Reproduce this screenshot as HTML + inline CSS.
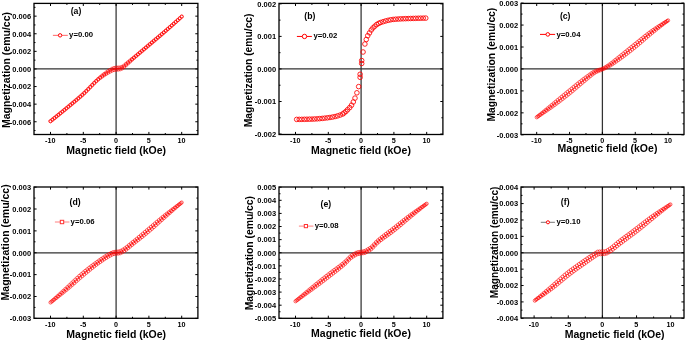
<!DOCTYPE html>
<html><head><meta charset="utf-8"><style>
html,body{margin:0;padding:0;background:#fff;}
body{width:685px;height:341px;overflow:hidden;}
svg{display:block;}
text{font-family:"Liberation Sans",sans-serif;font-weight:bold;fill:#000;}
svg g.t{filter:grayscale(1);}
.tl{font-size:8px;}
.ti{font-size:10.5px;}
.lb{font-size:8.7px;}
.lg{font-size:8.1px;}
</style></head><body>
<svg width="685" height="341" viewBox="0 0 685 341">
<g>
<path d="M116.1 3.4V134.5 M34 68.95H197.9" stroke="#333" stroke-width="1.25" fill="none"/>
<path d="M50.5 134.5v-2.6M50.5 3.4v2.6M66.9 134.5v-1.5M66.9 3.4v1.5M83.3 134.5v-2.6M83.3 3.4v2.6M99.7 134.5v-1.5M99.7 3.4v1.5M116.1 134.5v-2.6M116.1 3.4v2.6M132.5 134.5v-1.5M132.5 3.4v1.5M148.9 134.5v-2.6M148.9 3.4v2.6M165.3 134.5v-1.5M165.3 3.4v1.5M181.7 134.5v-2.6M181.7 3.4v2.6M34 130.55h1.5M197.9 130.55h-1.5M34 121.75h2.6M197.9 121.75h-2.6M34 112.95h1.5M197.9 112.95h-1.5M34 104.15h2.6M197.9 104.15h-2.6M34 95.35h1.5M197.9 95.35h-1.5M34 86.55h2.6M197.9 86.55h-2.6M34 77.75h1.5M197.9 77.75h-1.5M34 68.95h2.6M197.9 68.95h-2.6M34 60.15h1.5M197.9 60.15h-1.5M34 51.35h2.6M197.9 51.35h-2.6M34 42.55h1.5M197.9 42.55h-1.5M34 33.75h2.6M197.9 33.75h-2.6M34 24.95h1.5M197.9 24.95h-1.5M34 16.15h2.6M197.9 16.15h-2.6M34 7.35h1.5M197.9 7.35h-1.5" stroke="#000" stroke-width="1" fill="none"/>
<rect x="34" y="3.4" width="163.9" height="131.1" stroke="#000" stroke-width="1.3" fill="none"/>
<path d="M52.9 35.35H67.8" stroke="#ff6666" stroke-width="1" fill="none"/>
<circle cx="60.1" cy="35.35" r="1.7" fill="#fff" stroke="#f00" stroke-width="1"/>
<path d="M48.9 121.2a1.6 1.6 0 1 0 3.2 0a1.6 1.6 0 1 0 -3.2 0M50.89 119.65a1.6 1.6 0 1 0 3.2 0a1.6 1.6 0 1 0 -3.2 0M52.88 118.09a1.6 1.6 0 1 0 3.2 0a1.6 1.6 0 1 0 -3.2 0M54.86 116.52a1.6 1.6 0 1 0 3.2 0a1.6 1.6 0 1 0 -3.2 0M56.85 114.94a1.6 1.6 0 1 0 3.2 0a1.6 1.6 0 1 0 -3.2 0M58.84 113.35a1.6 1.6 0 1 0 3.2 0a1.6 1.6 0 1 0 -3.2 0M60.83 111.75a1.6 1.6 0 1 0 3.2 0a1.6 1.6 0 1 0 -3.2 0M62.82 110.14a1.6 1.6 0 1 0 3.2 0a1.6 1.6 0 1 0 -3.2 0M64.8 108.52a1.6 1.6 0 1 0 3.2 0a1.6 1.6 0 1 0 -3.2 0M66.79 106.89a1.6 1.6 0 1 0 3.2 0a1.6 1.6 0 1 0 -3.2 0M68.78 105.26a1.6 1.6 0 1 0 3.2 0a1.6 1.6 0 1 0 -3.2 0M70.77 103.63a1.6 1.6 0 1 0 3.2 0a1.6 1.6 0 1 0 -3.2 0M72.75 101.98a1.6 1.6 0 1 0 3.2 0a1.6 1.6 0 1 0 -3.2 0M74.74 100.32a1.6 1.6 0 1 0 3.2 0a1.6 1.6 0 1 0 -3.2 0M76.73 98.63a1.6 1.6 0 1 0 3.2 0a1.6 1.6 0 1 0 -3.2 0M78.72 96.91a1.6 1.6 0 1 0 3.2 0a1.6 1.6 0 1 0 -3.2 0M80.71 95.15a1.6 1.6 0 1 0 3.2 0a1.6 1.6 0 1 0 -3.2 0M82.69 93.33a1.6 1.6 0 1 0 3.2 0a1.6 1.6 0 1 0 -3.2 0M84.68 91.4a1.6 1.6 0 1 0 3.2 0a1.6 1.6 0 1 0 -3.2 0M86.67 89.39a1.6 1.6 0 1 0 3.2 0a1.6 1.6 0 1 0 -3.2 0M88.66 87.33a1.6 1.6 0 1 0 3.2 0a1.6 1.6 0 1 0 -3.2 0M90.65 85.27a1.6 1.6 0 1 0 3.2 0a1.6 1.6 0 1 0 -3.2 0M92.63 83.25a1.6 1.6 0 1 0 3.2 0a1.6 1.6 0 1 0 -3.2 0M94.62 81.3a1.6 1.6 0 1 0 3.2 0a1.6 1.6 0 1 0 -3.2 0M96.61 79.58a1.6 1.6 0 1 0 3.2 0a1.6 1.6 0 1 0 -3.2 0M98.6 78.02a1.6 1.6 0 1 0 3.2 0a1.6 1.6 0 1 0 -3.2 0M100.58 76.57a1.6 1.6 0 1 0 3.2 0a1.6 1.6 0 1 0 -3.2 0M102.57 75.19a1.6 1.6 0 1 0 3.2 0a1.6 1.6 0 1 0 -3.2 0M104.56 73.9a1.6 1.6 0 1 0 3.2 0a1.6 1.6 0 1 0 -3.2 0M106.55 72.7a1.6 1.6 0 1 0 3.2 0a1.6 1.6 0 1 0 -3.2 0M108.54 71.6a1.6 1.6 0 1 0 3.2 0a1.6 1.6 0 1 0 -3.2 0M110.52 70.59a1.6 1.6 0 1 0 3.2 0a1.6 1.6 0 1 0 -3.2 0M112.51 70.06a1.6 1.6 0 1 0 3.2 0a1.6 1.6 0 1 0 -3.2 0M114.5 69.8a1.6 1.6 0 1 0 3.2 0a1.6 1.6 0 1 0 -3.2 0M116.49 69.61a1.6 1.6 0 1 0 3.2 0a1.6 1.6 0 1 0 -3.2 0M118.48 69.32a1.6 1.6 0 1 0 3.2 0a1.6 1.6 0 1 0 -3.2 0M120.46 68.53a1.6 1.6 0 1 0 3.2 0a1.6 1.6 0 1 0 -3.2 0M122.45 67.15a1.6 1.6 0 1 0 3.2 0a1.6 1.6 0 1 0 -3.2 0M124.44 65.2a1.6 1.6 0 1 0 3.2 0a1.6 1.6 0 1 0 -3.2 0M126.43 63.4a1.6 1.6 0 1 0 3.2 0a1.6 1.6 0 1 0 -3.2 0M128.42 61.59a1.6 1.6 0 1 0 3.2 0a1.6 1.6 0 1 0 -3.2 0M130.4 59.79a1.6 1.6 0 1 0 3.2 0a1.6 1.6 0 1 0 -3.2 0M132.39 58.01a1.6 1.6 0 1 0 3.2 0a1.6 1.6 0 1 0 -3.2 0M134.38 56.24a1.6 1.6 0 1 0 3.2 0a1.6 1.6 0 1 0 -3.2 0M136.37 54.57a1.6 1.6 0 1 0 3.2 0a1.6 1.6 0 1 0 -3.2 0M138.35 52.91a1.6 1.6 0 1 0 3.2 0a1.6 1.6 0 1 0 -3.2 0M140.34 51.25a1.6 1.6 0 1 0 3.2 0a1.6 1.6 0 1 0 -3.2 0M142.33 49.58a1.6 1.6 0 1 0 3.2 0a1.6 1.6 0 1 0 -3.2 0M144.32 47.91a1.6 1.6 0 1 0 3.2 0a1.6 1.6 0 1 0 -3.2 0M146.31 46.24a1.6 1.6 0 1 0 3.2 0a1.6 1.6 0 1 0 -3.2 0M148.29 44.56a1.6 1.6 0 1 0 3.2 0a1.6 1.6 0 1 0 -3.2 0M150.28 42.88a1.6 1.6 0 1 0 3.2 0a1.6 1.6 0 1 0 -3.2 0M152.27 41.2a1.6 1.6 0 1 0 3.2 0a1.6 1.6 0 1 0 -3.2 0M154.26 39.53a1.6 1.6 0 1 0 3.2 0a1.6 1.6 0 1 0 -3.2 0M156.25 37.84a1.6 1.6 0 1 0 3.2 0a1.6 1.6 0 1 0 -3.2 0M158.23 36.15a1.6 1.6 0 1 0 3.2 0a1.6 1.6 0 1 0 -3.2 0M160.22 34.44a1.6 1.6 0 1 0 3.2 0a1.6 1.6 0 1 0 -3.2 0M162.21 32.72a1.6 1.6 0 1 0 3.2 0a1.6 1.6 0 1 0 -3.2 0M164.2 30.98a1.6 1.6 0 1 0 3.2 0a1.6 1.6 0 1 0 -3.2 0M166.18 29.22a1.6 1.6 0 1 0 3.2 0a1.6 1.6 0 1 0 -3.2 0M168.17 27.45a1.6 1.6 0 1 0 3.2 0a1.6 1.6 0 1 0 -3.2 0M170.16 25.67a1.6 1.6 0 1 0 3.2 0a1.6 1.6 0 1 0 -3.2 0M172.15 23.88a1.6 1.6 0 1 0 3.2 0a1.6 1.6 0 1 0 -3.2 0M174.14 22.08a1.6 1.6 0 1 0 3.2 0a1.6 1.6 0 1 0 -3.2 0M176.12 20.26a1.6 1.6 0 1 0 3.2 0a1.6 1.6 0 1 0 -3.2 0M178.11 18.44a1.6 1.6 0 1 0 3.2 0a1.6 1.6 0 1 0 -3.2 0M180.1 16.6a1.6 1.6 0 1 0 3.2 0a1.6 1.6 0 1 0 -3.2 0M48.9 121.2a1.6 1.6 0 1 0 3.2 0a1.6 1.6 0 1 0 -3.2 0M50.89 119.59a1.6 1.6 0 1 0 3.2 0a1.6 1.6 0 1 0 -3.2 0M52.88 117.98a1.6 1.6 0 1 0 3.2 0a1.6 1.6 0 1 0 -3.2 0M54.86 116.35a1.6 1.6 0 1 0 3.2 0a1.6 1.6 0 1 0 -3.2 0M56.85 114.72a1.6 1.6 0 1 0 3.2 0a1.6 1.6 0 1 0 -3.2 0M58.84 113.08a1.6 1.6 0 1 0 3.2 0a1.6 1.6 0 1 0 -3.2 0M60.83 111.43a1.6 1.6 0 1 0 3.2 0a1.6 1.6 0 1 0 -3.2 0M62.82 109.77a1.6 1.6 0 1 0 3.2 0a1.6 1.6 0 1 0 -3.2 0M64.8 108.11a1.6 1.6 0 1 0 3.2 0a1.6 1.6 0 1 0 -3.2 0M66.79 106.44a1.6 1.6 0 1 0 3.2 0a1.6 1.6 0 1 0 -3.2 0M68.78 104.77a1.6 1.6 0 1 0 3.2 0a1.6 1.6 0 1 0 -3.2 0M70.77 103.11a1.6 1.6 0 1 0 3.2 0a1.6 1.6 0 1 0 -3.2 0M72.75 101.44a1.6 1.6 0 1 0 3.2 0a1.6 1.6 0 1 0 -3.2 0M74.74 99.75a1.6 1.6 0 1 0 3.2 0a1.6 1.6 0 1 0 -3.2 0M76.73 98.04a1.6 1.6 0 1 0 3.2 0a1.6 1.6 0 1 0 -3.2 0M78.72 96.31a1.6 1.6 0 1 0 3.2 0a1.6 1.6 0 1 0 -3.2 0M80.71 94.55a1.6 1.6 0 1 0 3.2 0a1.6 1.6 0 1 0 -3.2 0M82.69 92.73a1.6 1.6 0 1 0 3.2 0a1.6 1.6 0 1 0 -3.2 0M84.68 90.81a1.6 1.6 0 1 0 3.2 0a1.6 1.6 0 1 0 -3.2 0M86.67 88.81a1.6 1.6 0 1 0 3.2 0a1.6 1.6 0 1 0 -3.2 0M88.66 86.76a1.6 1.6 0 1 0 3.2 0a1.6 1.6 0 1 0 -3.2 0M90.65 84.72a1.6 1.6 0 1 0 3.2 0a1.6 1.6 0 1 0 -3.2 0M92.63 82.73a1.6 1.6 0 1 0 3.2 0a1.6 1.6 0 1 0 -3.2 0M94.62 80.81a1.6 1.6 0 1 0 3.2 0a1.6 1.6 0 1 0 -3.2 0M96.61 78.92a1.6 1.6 0 1 0 3.2 0a1.6 1.6 0 1 0 -3.2 0M98.6 77.18a1.6 1.6 0 1 0 3.2 0a1.6 1.6 0 1 0 -3.2 0M100.58 75.55a1.6 1.6 0 1 0 3.2 0a1.6 1.6 0 1 0 -3.2 0M102.57 74a1.6 1.6 0 1 0 3.2 0a1.6 1.6 0 1 0 -3.2 0M104.56 72.54a1.6 1.6 0 1 0 3.2 0a1.6 1.6 0 1 0 -3.2 0M106.55 71.17a1.6 1.6 0 1 0 3.2 0a1.6 1.6 0 1 0 -3.2 0M108.54 69.9a1.6 1.6 0 1 0 3.2 0a1.6 1.6 0 1 0 -3.2 0M110.52 68.73a1.6 1.6 0 1 0 3.2 0a1.6 1.6 0 1 0 -3.2 0M112.51 68.03a1.6 1.6 0 1 0 3.2 0a1.6 1.6 0 1 0 -3.2 0M114.5 67.6a1.6 1.6 0 1 0 3.2 0a1.6 1.6 0 1 0 -3.2 0M116.49 67.57a1.6 1.6 0 1 0 3.2 0a1.6 1.6 0 1 0 -3.2 0M118.48 67.45a1.6 1.6 0 1 0 3.2 0a1.6 1.6 0 1 0 -3.2 0M120.46 66.83a1.6 1.6 0 1 0 3.2 0a1.6 1.6 0 1 0 -3.2 0M122.45 65.62a1.6 1.6 0 1 0 3.2 0a1.6 1.6 0 1 0 -3.2 0M124.44 63.83a1.6 1.6 0 1 0 3.2 0a1.6 1.6 0 1 0 -3.2 0M126.43 62.21a1.6 1.6 0 1 0 3.2 0a1.6 1.6 0 1 0 -3.2 0M128.42 60.58a1.6 1.6 0 1 0 3.2 0a1.6 1.6 0 1 0 -3.2 0M130.4 58.96a1.6 1.6 0 1 0 3.2 0a1.6 1.6 0 1 0 -3.2 0M132.39 57.35a1.6 1.6 0 1 0 3.2 0a1.6 1.6 0 1 0 -3.2 0M134.38 55.75a1.6 1.6 0 1 0 3.2 0a1.6 1.6 0 1 0 -3.2 0M136.37 54.05a1.6 1.6 0 1 0 3.2 0a1.6 1.6 0 1 0 -3.2 0M138.35 52.36a1.6 1.6 0 1 0 3.2 0a1.6 1.6 0 1 0 -3.2 0M140.34 50.68a1.6 1.6 0 1 0 3.2 0a1.6 1.6 0 1 0 -3.2 0M142.33 49a1.6 1.6 0 1 0 3.2 0a1.6 1.6 0 1 0 -3.2 0M144.32 47.32a1.6 1.6 0 1 0 3.2 0a1.6 1.6 0 1 0 -3.2 0M146.31 45.64a1.6 1.6 0 1 0 3.2 0a1.6 1.6 0 1 0 -3.2 0M148.29 43.96a1.6 1.6 0 1 0 3.2 0a1.6 1.6 0 1 0 -3.2 0M150.28 42.29a1.6 1.6 0 1 0 3.2 0a1.6 1.6 0 1 0 -3.2 0M152.27 40.62a1.6 1.6 0 1 0 3.2 0a1.6 1.6 0 1 0 -3.2 0M154.26 38.96a1.6 1.6 0 1 0 3.2 0a1.6 1.6 0 1 0 -3.2 0M156.25 37.29a1.6 1.6 0 1 0 3.2 0a1.6 1.6 0 1 0 -3.2 0M158.23 35.63a1.6 1.6 0 1 0 3.2 0a1.6 1.6 0 1 0 -3.2 0M160.22 33.95a1.6 1.6 0 1 0 3.2 0a1.6 1.6 0 1 0 -3.2 0M162.21 32.26a1.6 1.6 0 1 0 3.2 0a1.6 1.6 0 1 0 -3.2 0M164.2 30.56a1.6 1.6 0 1 0 3.2 0a1.6 1.6 0 1 0 -3.2 0M166.18 28.85a1.6 1.6 0 1 0 3.2 0a1.6 1.6 0 1 0 -3.2 0M168.17 27.13a1.6 1.6 0 1 0 3.2 0a1.6 1.6 0 1 0 -3.2 0M170.16 25.4a1.6 1.6 0 1 0 3.2 0a1.6 1.6 0 1 0 -3.2 0M172.15 23.66a1.6 1.6 0 1 0 3.2 0a1.6 1.6 0 1 0 -3.2 0M174.14 21.91a1.6 1.6 0 1 0 3.2 0a1.6 1.6 0 1 0 -3.2 0M176.12 20.15a1.6 1.6 0 1 0 3.2 0a1.6 1.6 0 1 0 -3.2 0M178.11 18.38a1.6 1.6 0 1 0 3.2 0a1.6 1.6 0 1 0 -3.2 0M180.1 16.6a1.6 1.6 0 1 0 3.2 0a1.6 1.6 0 1 0 -3.2 0" fill="none" stroke="#f00" stroke-width="0.62"/>
<g class="t">
<text class="tl" transform="translate(50.3 143.2) scale(0.9 1)" text-anchor="middle">-10</text>
<text class="tl" transform="translate(83.1 143.2) scale(0.9 1)" text-anchor="middle">-5</text>
<text class="tl" transform="translate(115.9 143.2) scale(0.9 1)" text-anchor="middle">0</text>
<text class="tl" transform="translate(148.7 143.2) scale(0.9 1)" text-anchor="middle">5</text>
<text class="tl" transform="translate(181.5 143.2) scale(0.9 1)" text-anchor="middle">10</text>
<text class="tl" transform="translate(31.1 124.55) scale(0.94 1)" text-anchor="end">-0.006</text>
<text class="tl" transform="translate(31.1 106.95) scale(0.94 1)" text-anchor="end">-0.004</text>
<text class="tl" transform="translate(31.1 89.35) scale(0.94 1)" text-anchor="end">-0.002</text>
<text class="tl" transform="translate(31.1 71.75) scale(0.94 1)" text-anchor="end">0.000</text>
<text class="tl" transform="translate(31.1 54.15) scale(0.94 1)" text-anchor="end">0.002</text>
<text class="tl" transform="translate(31.1 36.55) scale(0.94 1)" text-anchor="end">0.004</text>
<text class="tl" transform="translate(31.1 18.95) scale(0.94 1)" text-anchor="end">0.006</text>
<text class="ti" x="116.2" y="153.5" text-anchor="middle">Magnetic field (kOe)</text>
<text class="ti" style="font-size:10.5px" text-anchor="middle" transform="translate(10.1 70) rotate(-90)">Magnetization (emu/cc)</text>
<text class="lb" x="76" y="13.8" text-anchor="middle">(a)</text>
<text class="lg" transform="translate(69.1 37.1) scale(0.96 1)">y=0.00</text>
</g>
</g>
<g>
<path d="M361.1 3.4V134.5 M279 68.95H442.9" stroke="#333" stroke-width="1.25" fill="none"/>
<path d="M295.5 134.5v-2.6M295.5 3.4v2.6M311.9 134.5v-1.5M311.9 3.4v1.5M328.3 134.5v-2.6M328.3 3.4v2.6M344.7 134.5v-1.5M344.7 3.4v1.5M361.1 134.5v-2.6M361.1 3.4v2.6M377.5 134.5v-1.5M377.5 3.4v1.5M393.9 134.5v-2.6M393.9 3.4v2.6M410.3 134.5v-1.5M410.3 3.4v1.5M426.7 134.5v-2.6M426.7 3.4v2.6M279 134.05h2.6M442.9 134.05h-2.6M279 117.78h1.5M442.9 117.78h-1.5M279 101.5h2.6M442.9 101.5h-2.6M279 85.22h1.5M442.9 85.22h-1.5M279 68.95h2.6M442.9 68.95h-2.6M279 52.68h1.5M442.9 52.68h-1.5M279 36.4h2.6M442.9 36.4h-2.6M279 20.12h1.5M442.9 20.12h-1.5M279 3.85h2.6M442.9 3.85h-2.6" stroke="#000" stroke-width="1" fill="none"/>
<rect x="279" y="3.4" width="163.9" height="131.1" stroke="#000" stroke-width="1.3" fill="none"/>
<path d="M296.9 36.45H311.9" stroke="#ff0000" stroke-width="1" fill="none"/>
<circle cx="304.5" cy="36.45" r="2.2" fill="#fff" stroke="#f00" stroke-width="1"/>
<path d="M294.38 119.4a2.3 2.3 0 1 0 4.6 0a2.3 2.3 0 1 0 -4.6 0M296.94 119.38a2.3 2.3 0 1 0 4.6 0a2.3 2.3 0 1 0 -4.6 0M299.5 119.35a2.3 2.3 0 1 0 4.6 0a2.3 2.3 0 1 0 -4.6 0M302.06 119.3a2.3 2.3 0 1 0 4.6 0a2.3 2.3 0 1 0 -4.6 0M304.61 119.24a2.3 2.3 0 1 0 4.6 0a2.3 2.3 0 1 0 -4.6 0M307.17 119.17a2.3 2.3 0 1 0 4.6 0a2.3 2.3 0 1 0 -4.6 0M309.73 119.1a2.3 2.3 0 1 0 4.6 0a2.3 2.3 0 1 0 -4.6 0M312.29 118.99a2.3 2.3 0 1 0 4.6 0a2.3 2.3 0 1 0 -4.6 0M314.85 118.84a2.3 2.3 0 1 0 4.6 0a2.3 2.3 0 1 0 -4.6 0M317.41 118.64a2.3 2.3 0 1 0 4.6 0a2.3 2.3 0 1 0 -4.6 0M319.96 118.4a2.3 2.3 0 1 0 4.6 0a2.3 2.3 0 1 0 -4.6 0M322.52 118.12a2.3 2.3 0 1 0 4.6 0a2.3 2.3 0 1 0 -4.6 0M325.08 117.82a2.3 2.3 0 1 0 4.6 0a2.3 2.3 0 1 0 -4.6 0M327.64 117.48a2.3 2.3 0 1 0 4.6 0a2.3 2.3 0 1 0 -4.6 0M330.2 117.06a2.3 2.3 0 1 0 4.6 0a2.3 2.3 0 1 0 -4.6 0M332.76 116.54a2.3 2.3 0 1 0 4.6 0a2.3 2.3 0 1 0 -4.6 0M335.32 115.88a2.3 2.3 0 1 0 4.6 0a2.3 2.3 0 1 0 -4.6 0M337.87 115.04a2.3 2.3 0 1 0 4.6 0a2.3 2.3 0 1 0 -4.6 0M340.43 114a2.3 2.3 0 1 0 4.6 0a2.3 2.3 0 1 0 -4.6 0M341.81 112.9a2.3 2.3 0 1 0 4.6 0a2.3 2.3 0 1 0 -4.6 0M343.58 111.5a2.3 2.3 0 1 0 4.6 0a2.3 2.3 0 1 0 -4.6 0M345.29 109.7a2.3 2.3 0 1 0 4.6 0a2.3 2.3 0 1 0 -4.6 0M347.39 107.6a2.3 2.3 0 1 0 4.6 0a2.3 2.3 0 1 0 -4.6 0M349.22 105.2a2.3 2.3 0 1 0 4.6 0a2.3 2.3 0 1 0 -4.6 0M350.99 102a2.3 2.3 0 1 0 4.6 0a2.3 2.3 0 1 0 -4.6 0M352.7 98.1a2.3 2.3 0 1 0 4.6 0a2.3 2.3 0 1 0 -4.6 0M354.6 92.8a2.3 2.3 0 1 0 4.6 0a2.3 2.3 0 1 0 -4.6 0M356.37 86.6a2.3 2.3 0 1 0 4.6 0a2.3 2.3 0 1 0 -4.6 0M357.82 74.27a2.3 2.3 0 1 0 4.6 0a2.3 2.3 0 1 0 -4.6 0M359.39 60.54a2.3 2.3 0 1 0 4.6 0a2.3 2.3 0 1 0 -4.6 0M360.77 52a2.3 2.3 0 1 0 4.6 0a2.3 2.3 0 1 0 -4.6 0M362.6 44a2.3 2.3 0 1 0 4.6 0a2.3 2.3 0 1 0 -4.6 0M363.98 39.5a2.3 2.3 0 1 0 4.6 0a2.3 2.3 0 1 0 -4.6 0M365.43 35.7a2.3 2.3 0 1 0 4.6 0a2.3 2.3 0 1 0 -4.6 0M367.2 32.9a2.3 2.3 0 1 0 4.6 0a2.3 2.3 0 1 0 -4.6 0M368.97 30a2.3 2.3 0 1 0 4.6 0a2.3 2.3 0 1 0 -4.6 0M370.67 27.9a2.3 2.3 0 1 0 4.6 0a2.3 2.3 0 1 0 -4.6 0M372.51 26.2a2.3 2.3 0 1 0 4.6 0a2.3 2.3 0 1 0 -4.6 0M374.41 24.54a2.3 2.3 0 1 0 4.6 0a2.3 2.3 0 1 0 -4.6 0M376.38 23.36a2.3 2.3 0 1 0 4.6 0a2.3 2.3 0 1 0 -4.6 0M378.35 22.5a2.3 2.3 0 1 0 4.6 0a2.3 2.3 0 1 0 -4.6 0M380.85 21.67a2.3 2.3 0 1 0 4.6 0a2.3 2.3 0 1 0 -4.6 0M383.36 20.95a2.3 2.3 0 1 0 4.6 0a2.3 2.3 0 1 0 -4.6 0M385.87 20.3a2.3 2.3 0 1 0 4.6 0a2.3 2.3 0 1 0 -4.6 0M388.37 19.79a2.3 2.3 0 1 0 4.6 0a2.3 2.3 0 1 0 -4.6 0M390.88 19.42a2.3 2.3 0 1 0 4.6 0a2.3 2.3 0 1 0 -4.6 0M393.38 19.2a2.3 2.3 0 1 0 4.6 0a2.3 2.3 0 1 0 -4.6 0M395.89 19.03a2.3 2.3 0 1 0 4.6 0a2.3 2.3 0 1 0 -4.6 0M398.4 18.88a2.3 2.3 0 1 0 4.6 0a2.3 2.3 0 1 0 -4.6 0M400.9 18.76a2.3 2.3 0 1 0 4.6 0a2.3 2.3 0 1 0 -4.6 0M403.41 18.66a2.3 2.3 0 1 0 4.6 0a2.3 2.3 0 1 0 -4.6 0M405.91 18.57a2.3 2.3 0 1 0 4.6 0a2.3 2.3 0 1 0 -4.6 0M408.42 18.49a2.3 2.3 0 1 0 4.6 0a2.3 2.3 0 1 0 -4.6 0M410.93 18.41a2.3 2.3 0 1 0 4.6 0a2.3 2.3 0 1 0 -4.6 0M413.43 18.33a2.3 2.3 0 1 0 4.6 0a2.3 2.3 0 1 0 -4.6 0M415.94 18.26a2.3 2.3 0 1 0 4.6 0a2.3 2.3 0 1 0 -4.6 0M418.44 18.2a2.3 2.3 0 1 0 4.6 0a2.3 2.3 0 1 0 -4.6 0M420.95 18.15a2.3 2.3 0 1 0 4.6 0a2.3 2.3 0 1 0 -4.6 0M423.46 18.11a2.3 2.3 0 1 0 4.6 0a2.3 2.3 0 1 0 -4.6 0M357.82 77.31a2.3 2.3 0 1 0 4.6 0a2.3 2.3 0 1 0 -4.6 0M359.39 63.5a2.3 2.3 0 1 0 4.6 0a2.3 2.3 0 1 0 -4.6 0" fill="none" stroke="#f00" stroke-width="0.85"/>
<g class="t">
<text class="tl" transform="translate(295.3 143.2) scale(0.9 1)" text-anchor="middle">-10</text>
<text class="tl" transform="translate(328.1 143.2) scale(0.9 1)" text-anchor="middle">-5</text>
<text class="tl" transform="translate(360.9 143.2) scale(0.9 1)" text-anchor="middle">0</text>
<text class="tl" transform="translate(393.7 143.2) scale(0.9 1)" text-anchor="middle">5</text>
<text class="tl" transform="translate(426.5 143.2) scale(0.9 1)" text-anchor="middle">10</text>
<text class="tl" transform="translate(276.1 136.85) scale(0.94 1)" text-anchor="end">-0.002</text>
<text class="tl" transform="translate(276.1 104.3) scale(0.94 1)" text-anchor="end">-0.001</text>
<text class="tl" transform="translate(276.1 71.75) scale(0.94 1)" text-anchor="end">0.000</text>
<text class="tl" transform="translate(276.1 39.2) scale(0.94 1)" text-anchor="end">0.001</text>
<text class="tl" transform="translate(276.1 6.65) scale(0.94 1)" text-anchor="end">0.002</text>
<text class="ti" x="361" y="153.8" text-anchor="middle">Magnetic field (kOe)</text>
<text class="ti" style="font-size:10.3px" text-anchor="middle" transform="translate(252 70.4) rotate(-90)">Magnetization (emu/cc)</text>
<text class="lb" x="309.9" y="18.6" text-anchor="middle">(b)</text>
<text class="lg" transform="translate(313.4 38.3) scale(0.96 1)">y=0.02</text>
</g>
</g>
<g>
<path d="M602.4 3.4V134.5 M521 68.95H684" stroke="#333" stroke-width="1.25" fill="none"/>
<path d="M536.7 134.5v-2.6M536.7 3.4v2.6M553.12 134.5v-1.5M553.12 3.4v1.5M569.55 134.5v-2.6M569.55 3.4v2.6M585.98 134.5v-1.5M585.98 3.4v1.5M602.4 134.5v-2.6M602.4 3.4v2.6M618.82 134.5v-1.5M618.82 3.4v1.5M635.25 134.5v-2.6M635.25 3.4v2.6M651.67 134.5v-1.5M651.67 3.4v1.5M668.1 134.5v-2.6M668.1 3.4v2.6M521 134.8h2.6M684 134.8h-2.6M521 123.83h1.5M684 123.83h-1.5M521 112.85h2.6M684 112.85h-2.6M521 101.88h1.5M684 101.88h-1.5M521 90.9h2.6M684 90.9h-2.6M521 79.92h1.5M684 79.92h-1.5M521 68.95h2.6M684 68.95h-2.6M521 57.98h1.5M684 57.98h-1.5M521 47h2.6M684 47h-2.6M521 36.03h1.5M684 36.03h-1.5M521 25.05h2.6M684 25.05h-2.6M521 14.08h1.5M684 14.08h-1.5M521 3.1h2.6M684 3.1h-2.6" stroke="#000" stroke-width="1" fill="none"/>
<rect x="521" y="3.4" width="163" height="131.1" stroke="#000" stroke-width="1.3" fill="none"/>
<path d="M540 34.4H555.1" stroke="#ff0000" stroke-width="1" fill="none"/>
<circle cx="547.8" cy="34.4" r="1.8" fill="#fff" stroke="#f00" stroke-width="1"/>
<path d="M535.1 117.3a1.6 1.6 0 1 0 3.2 0a1.6 1.6 0 1 0 -3.2 0M537.09 115.99a1.6 1.6 0 1 0 3.2 0a1.6 1.6 0 1 0 -3.2 0M539.08 114.67a1.6 1.6 0 1 0 3.2 0a1.6 1.6 0 1 0 -3.2 0M541.07 113.34a1.6 1.6 0 1 0 3.2 0a1.6 1.6 0 1 0 -3.2 0M543.06 111.99a1.6 1.6 0 1 0 3.2 0a1.6 1.6 0 1 0 -3.2 0M545.05 110.63a1.6 1.6 0 1 0 3.2 0a1.6 1.6 0 1 0 -3.2 0M547.05 109.25a1.6 1.6 0 1 0 3.2 0a1.6 1.6 0 1 0 -3.2 0M549.04 107.86a1.6 1.6 0 1 0 3.2 0a1.6 1.6 0 1 0 -3.2 0M551.03 106.44a1.6 1.6 0 1 0 3.2 0a1.6 1.6 0 1 0 -3.2 0M553.02 105.01a1.6 1.6 0 1 0 3.2 0a1.6 1.6 0 1 0 -3.2 0M555.01 103.55a1.6 1.6 0 1 0 3.2 0a1.6 1.6 0 1 0 -3.2 0M557 102.07a1.6 1.6 0 1 0 3.2 0a1.6 1.6 0 1 0 -3.2 0M558.99 100.56a1.6 1.6 0 1 0 3.2 0a1.6 1.6 0 1 0 -3.2 0M560.98 99.03a1.6 1.6 0 1 0 3.2 0a1.6 1.6 0 1 0 -3.2 0M562.97 97.49a1.6 1.6 0 1 0 3.2 0a1.6 1.6 0 1 0 -3.2 0M564.96 95.92a1.6 1.6 0 1 0 3.2 0a1.6 1.6 0 1 0 -3.2 0M566.95 94.35a1.6 1.6 0 1 0 3.2 0a1.6 1.6 0 1 0 -3.2 0M568.95 92.75a1.6 1.6 0 1 0 3.2 0a1.6 1.6 0 1 0 -3.2 0M570.94 91.11a1.6 1.6 0 1 0 3.2 0a1.6 1.6 0 1 0 -3.2 0M572.93 89.43a1.6 1.6 0 1 0 3.2 0a1.6 1.6 0 1 0 -3.2 0M574.92 87.74a1.6 1.6 0 1 0 3.2 0a1.6 1.6 0 1 0 -3.2 0M576.91 86.03a1.6 1.6 0 1 0 3.2 0a1.6 1.6 0 1 0 -3.2 0M578.9 84.33a1.6 1.6 0 1 0 3.2 0a1.6 1.6 0 1 0 -3.2 0M580.89 82.65a1.6 1.6 0 1 0 3.2 0a1.6 1.6 0 1 0 -3.2 0M582.88 81a1.6 1.6 0 1 0 3.2 0a1.6 1.6 0 1 0 -3.2 0M584.87 79.38a1.6 1.6 0 1 0 3.2 0a1.6 1.6 0 1 0 -3.2 0M586.86 77.72a1.6 1.6 0 1 0 3.2 0a1.6 1.6 0 1 0 -3.2 0M588.85 76.05a1.6 1.6 0 1 0 3.2 0a1.6 1.6 0 1 0 -3.2 0M590.85 74.46a1.6 1.6 0 1 0 3.2 0a1.6 1.6 0 1 0 -3.2 0M592.84 73.06a1.6 1.6 0 1 0 3.2 0a1.6 1.6 0 1 0 -3.2 0M594.83 71.93a1.6 1.6 0 1 0 3.2 0a1.6 1.6 0 1 0 -3.2 0M596.82 71.06a1.6 1.6 0 1 0 3.2 0a1.6 1.6 0 1 0 -3.2 0M598.81 70.28a1.6 1.6 0 1 0 3.2 0a1.6 1.6 0 1 0 -3.2 0M600.8 69.4a1.6 1.6 0 1 0 3.2 0a1.6 1.6 0 1 0 -3.2 0M602.79 68.59a1.6 1.6 0 1 0 3.2 0a1.6 1.6 0 1 0 -3.2 0M604.78 67.65a1.6 1.6 0 1 0 3.2 0a1.6 1.6 0 1 0 -3.2 0M606.77 66.61a1.6 1.6 0 1 0 3.2 0a1.6 1.6 0 1 0 -3.2 0M608.76 65.48a1.6 1.6 0 1 0 3.2 0a1.6 1.6 0 1 0 -3.2 0M610.75 64.22a1.6 1.6 0 1 0 3.2 0a1.6 1.6 0 1 0 -3.2 0M612.75 62.87a1.6 1.6 0 1 0 3.2 0a1.6 1.6 0 1 0 -3.2 0M614.74 61.46a1.6 1.6 0 1 0 3.2 0a1.6 1.6 0 1 0 -3.2 0M616.73 60.04a1.6 1.6 0 1 0 3.2 0a1.6 1.6 0 1 0 -3.2 0M618.72 58.62a1.6 1.6 0 1 0 3.2 0a1.6 1.6 0 1 0 -3.2 0M620.71 57.18a1.6 1.6 0 1 0 3.2 0a1.6 1.6 0 1 0 -3.2 0M622.7 55.7a1.6 1.6 0 1 0 3.2 0a1.6 1.6 0 1 0 -3.2 0M624.69 54.19a1.6 1.6 0 1 0 3.2 0a1.6 1.6 0 1 0 -3.2 0M626.68 52.66a1.6 1.6 0 1 0 3.2 0a1.6 1.6 0 1 0 -3.2 0M628.67 51.11a1.6 1.6 0 1 0 3.2 0a1.6 1.6 0 1 0 -3.2 0M630.66 49.54a1.6 1.6 0 1 0 3.2 0a1.6 1.6 0 1 0 -3.2 0M632.65 47.95a1.6 1.6 0 1 0 3.2 0a1.6 1.6 0 1 0 -3.2 0M634.65 46.34a1.6 1.6 0 1 0 3.2 0a1.6 1.6 0 1 0 -3.2 0M636.64 44.69a1.6 1.6 0 1 0 3.2 0a1.6 1.6 0 1 0 -3.2 0M638.63 43a1.6 1.6 0 1 0 3.2 0a1.6 1.6 0 1 0 -3.2 0M640.62 41.29a1.6 1.6 0 1 0 3.2 0a1.6 1.6 0 1 0 -3.2 0M642.61 39.57a1.6 1.6 0 1 0 3.2 0a1.6 1.6 0 1 0 -3.2 0M644.6 37.85a1.6 1.6 0 1 0 3.2 0a1.6 1.6 0 1 0 -3.2 0M646.59 36.14a1.6 1.6 0 1 0 3.2 0a1.6 1.6 0 1 0 -3.2 0M648.58 34.47a1.6 1.6 0 1 0 3.2 0a1.6 1.6 0 1 0 -3.2 0M650.57 32.83a1.6 1.6 0 1 0 3.2 0a1.6 1.6 0 1 0 -3.2 0M652.56 31.22a1.6 1.6 0 1 0 3.2 0a1.6 1.6 0 1 0 -3.2 0M654.55 29.61a1.6 1.6 0 1 0 3.2 0a1.6 1.6 0 1 0 -3.2 0M656.55 28.03a1.6 1.6 0 1 0 3.2 0a1.6 1.6 0 1 0 -3.2 0M658.54 26.46a1.6 1.6 0 1 0 3.2 0a1.6 1.6 0 1 0 -3.2 0M660.53 24.91a1.6 1.6 0 1 0 3.2 0a1.6 1.6 0 1 0 -3.2 0M662.52 23.38a1.6 1.6 0 1 0 3.2 0a1.6 1.6 0 1 0 -3.2 0M664.51 21.88a1.6 1.6 0 1 0 3.2 0a1.6 1.6 0 1 0 -3.2 0M666.5 20.4a1.6 1.6 0 1 0 3.2 0a1.6 1.6 0 1 0 -3.2 0M536.1 116.5a1.6 1.6 0 1 0 3.2 0a1.6 1.6 0 1 0 -3.2 0M538.09 114.88a1.6 1.6 0 1 0 3.2 0a1.6 1.6 0 1 0 -3.2 0M540.08 113.25a1.6 1.6 0 1 0 3.2 0a1.6 1.6 0 1 0 -3.2 0M542.07 111.62a1.6 1.6 0 1 0 3.2 0a1.6 1.6 0 1 0 -3.2 0M544.06 109.99a1.6 1.6 0 1 0 3.2 0a1.6 1.6 0 1 0 -3.2 0M546.05 108.34a1.6 1.6 0 1 0 3.2 0a1.6 1.6 0 1 0 -3.2 0M548.04 106.7a1.6 1.6 0 1 0 3.2 0a1.6 1.6 0 1 0 -3.2 0M550.03 105.05a1.6 1.6 0 1 0 3.2 0a1.6 1.6 0 1 0 -3.2 0M552.02 103.4a1.6 1.6 0 1 0 3.2 0a1.6 1.6 0 1 0 -3.2 0M554.01 101.75a1.6 1.6 0 1 0 3.2 0a1.6 1.6 0 1 0 -3.2 0M556 100.09a1.6 1.6 0 1 0 3.2 0a1.6 1.6 0 1 0 -3.2 0M558 98.44a1.6 1.6 0 1 0 3.2 0a1.6 1.6 0 1 0 -3.2 0M559.99 96.79a1.6 1.6 0 1 0 3.2 0a1.6 1.6 0 1 0 -3.2 0M561.98 95.14a1.6 1.6 0 1 0 3.2 0a1.6 1.6 0 1 0 -3.2 0M563.97 93.5a1.6 1.6 0 1 0 3.2 0a1.6 1.6 0 1 0 -3.2 0M565.96 91.87a1.6 1.6 0 1 0 3.2 0a1.6 1.6 0 1 0 -3.2 0M567.95 90.25a1.6 1.6 0 1 0 3.2 0a1.6 1.6 0 1 0 -3.2 0M569.94 88.63a1.6 1.6 0 1 0 3.2 0a1.6 1.6 0 1 0 -3.2 0M571.93 86.99a1.6 1.6 0 1 0 3.2 0a1.6 1.6 0 1 0 -3.2 0M573.92 85.35a1.6 1.6 0 1 0 3.2 0a1.6 1.6 0 1 0 -3.2 0M575.91 83.73a1.6 1.6 0 1 0 3.2 0a1.6 1.6 0 1 0 -3.2 0M577.9 82.12a1.6 1.6 0 1 0 3.2 0a1.6 1.6 0 1 0 -3.2 0M579.9 80.55a1.6 1.6 0 1 0 3.2 0a1.6 1.6 0 1 0 -3.2 0M581.89 79.03a1.6 1.6 0 1 0 3.2 0a1.6 1.6 0 1 0 -3.2 0M583.88 77.57a1.6 1.6 0 1 0 3.2 0a1.6 1.6 0 1 0 -3.2 0M585.87 76.13a1.6 1.6 0 1 0 3.2 0a1.6 1.6 0 1 0 -3.2 0M587.86 74.66a1.6 1.6 0 1 0 3.2 0a1.6 1.6 0 1 0 -3.2 0M589.85 73.24a1.6 1.6 0 1 0 3.2 0a1.6 1.6 0 1 0 -3.2 0M591.84 71.97a1.6 1.6 0 1 0 3.2 0a1.6 1.6 0 1 0 -3.2 0M593.83 70.94a1.6 1.6 0 1 0 3.2 0a1.6 1.6 0 1 0 -3.2 0M595.82 70.21a1.6 1.6 0 1 0 3.2 0a1.6 1.6 0 1 0 -3.2 0M597.81 69.67a1.6 1.6 0 1 0 3.2 0a1.6 1.6 0 1 0 -3.2 0M599.8 69.13a1.6 1.6 0 1 0 3.2 0a1.6 1.6 0 1 0 -3.2 0M601.8 68.28a1.6 1.6 0 1 0 3.2 0a1.6 1.6 0 1 0 -3.2 0M603.79 67.13a1.6 1.6 0 1 0 3.2 0a1.6 1.6 0 1 0 -3.2 0M605.78 65.88a1.6 1.6 0 1 0 3.2 0a1.6 1.6 0 1 0 -3.2 0M607.77 64.54a1.6 1.6 0 1 0 3.2 0a1.6 1.6 0 1 0 -3.2 0M609.76 63.1a1.6 1.6 0 1 0 3.2 0a1.6 1.6 0 1 0 -3.2 0M611.75 61.55a1.6 1.6 0 1 0 3.2 0a1.6 1.6 0 1 0 -3.2 0M613.74 59.94a1.6 1.6 0 1 0 3.2 0a1.6 1.6 0 1 0 -3.2 0M615.73 58.32a1.6 1.6 0 1 0 3.2 0a1.6 1.6 0 1 0 -3.2 0M617.72 56.72a1.6 1.6 0 1 0 3.2 0a1.6 1.6 0 1 0 -3.2 0M619.71 55.12a1.6 1.6 0 1 0 3.2 0a1.6 1.6 0 1 0 -3.2 0M621.7 53.51a1.6 1.6 0 1 0 3.2 0a1.6 1.6 0 1 0 -3.2 0M623.7 51.89a1.6 1.6 0 1 0 3.2 0a1.6 1.6 0 1 0 -3.2 0M625.69 50.27a1.6 1.6 0 1 0 3.2 0a1.6 1.6 0 1 0 -3.2 0M627.68 48.66a1.6 1.6 0 1 0 3.2 0a1.6 1.6 0 1 0 -3.2 0M629.67 47.04a1.6 1.6 0 1 0 3.2 0a1.6 1.6 0 1 0 -3.2 0M631.66 45.44a1.6 1.6 0 1 0 3.2 0a1.6 1.6 0 1 0 -3.2 0M633.65 43.85a1.6 1.6 0 1 0 3.2 0a1.6 1.6 0 1 0 -3.2 0M635.64 42.25a1.6 1.6 0 1 0 3.2 0a1.6 1.6 0 1 0 -3.2 0M637.63 40.64a1.6 1.6 0 1 0 3.2 0a1.6 1.6 0 1 0 -3.2 0M639.62 39.03a1.6 1.6 0 1 0 3.2 0a1.6 1.6 0 1 0 -3.2 0M641.61 37.42a1.6 1.6 0 1 0 3.2 0a1.6 1.6 0 1 0 -3.2 0M643.6 35.83a1.6 1.6 0 1 0 3.2 0a1.6 1.6 0 1 0 -3.2 0M645.6 34.28a1.6 1.6 0 1 0 3.2 0a1.6 1.6 0 1 0 -3.2 0M647.59 32.77a1.6 1.6 0 1 0 3.2 0a1.6 1.6 0 1 0 -3.2 0M649.58 31.32a1.6 1.6 0 1 0 3.2 0a1.6 1.6 0 1 0 -3.2 0M651.57 29.92a1.6 1.6 0 1 0 3.2 0a1.6 1.6 0 1 0 -3.2 0M653.56 28.55a1.6 1.6 0 1 0 3.2 0a1.6 1.6 0 1 0 -3.2 0M655.55 27.22a1.6 1.6 0 1 0 3.2 0a1.6 1.6 0 1 0 -3.2 0M657.54 25.91a1.6 1.6 0 1 0 3.2 0a1.6 1.6 0 1 0 -3.2 0M659.53 24.64a1.6 1.6 0 1 0 3.2 0a1.6 1.6 0 1 0 -3.2 0M661.52 23.39a1.6 1.6 0 1 0 3.2 0a1.6 1.6 0 1 0 -3.2 0M663.51 22.18a1.6 1.6 0 1 0 3.2 0a1.6 1.6 0 1 0 -3.2 0M665.5 20.98a1.6 1.6 0 1 0 3.2 0a1.6 1.6 0 1 0 -3.2 0" fill="none" stroke="#f00" stroke-width="0.6"/>
<g class="t">
<text class="tl" transform="translate(536.5 143.2) scale(0.9 1)" text-anchor="middle">-10</text>
<text class="tl" transform="translate(569.35 143.2) scale(0.9 1)" text-anchor="middle">-5</text>
<text class="tl" transform="translate(602.2 143.2) scale(0.9 1)" text-anchor="middle">0</text>
<text class="tl" transform="translate(635.05 143.2) scale(0.9 1)" text-anchor="middle">5</text>
<text class="tl" transform="translate(667.9 143.2) scale(0.9 1)" text-anchor="middle">10</text>
<text class="tl" transform="translate(518.1 137.6) scale(0.94 1)" text-anchor="end">-0.003</text>
<text class="tl" transform="translate(518.1 115.65) scale(0.94 1)" text-anchor="end">-0.002</text>
<text class="tl" transform="translate(518.1 93.7) scale(0.94 1)" text-anchor="end">-0.001</text>
<text class="tl" transform="translate(518.1 71.75) scale(0.94 1)" text-anchor="end">0.000</text>
<text class="tl" transform="translate(518.1 49.8) scale(0.94 1)" text-anchor="end">0.001</text>
<text class="tl" transform="translate(518.1 27.85) scale(0.94 1)" text-anchor="end">0.002</text>
<text class="tl" transform="translate(518.1 5.9) scale(0.94 1)" text-anchor="end">0.003</text>
<text class="ti" x="607.5" y="151.6" text-anchor="middle">Magnetic field (kOe)</text>
<text class="ti" style="font-size:10.3px" text-anchor="middle" transform="translate(495.2 64.65) rotate(-90)">Magnetization (emu/cc)</text>
<text class="lb" x="565.2" y="18.6" text-anchor="middle">(c)</text>
<text class="lg" transform="translate(556.5 36.9) scale(0.96 1)">y=0.04</text>
</g>
</g>
<g>
<path d="M116.1 187V318.3 M34 252.75H197.9" stroke="#333" stroke-width="1.25" fill="none"/>
<path d="M50.5 318.3v-2.6M50.5 187v2.6M66.9 318.3v-1.5M66.9 187v1.5M83.3 318.3v-2.6M83.3 187v2.6M99.7 318.3v-1.5M99.7 187v1.5M116.1 318.3v-2.6M116.1 187v2.6M132.5 318.3v-1.5M132.5 187v1.5M148.9 318.3v-2.6M148.9 187v2.6M165.3 318.3v-1.5M165.3 187v1.5M181.7 318.3v-2.6M181.7 187v2.6M34 318.36h2.6M197.9 318.36h-2.6M34 307.43h1.5M197.9 307.43h-1.5M34 296.49h2.6M197.9 296.49h-2.6M34 285.56h1.5M197.9 285.56h-1.5M34 274.62h2.6M197.9 274.62h-2.6M34 263.69h1.5M197.9 263.69h-1.5M34 252.75h2.6M197.9 252.75h-2.6M34 241.81h1.5M197.9 241.81h-1.5M34 230.88h2.6M197.9 230.88h-2.6M34 219.94h1.5M197.9 219.94h-1.5M34 209.01h2.6M197.9 209.01h-2.6M34 198.07h1.5M197.9 198.07h-1.5M34 187.14h2.6M197.9 187.14h-2.6" stroke="#000" stroke-width="1" fill="none"/>
<rect x="34" y="187" width="163.9" height="131.3" stroke="#000" stroke-width="1.3" fill="none"/>
<path d="M54.9 222H69.4" stroke="#ff8080" stroke-width="1" fill="none"/>
<rect x="60.3" y="220.3" width="3.4" height="3.4" fill="#fff" stroke="#f33" stroke-width="1"/>
<path d="M48.9 302.5a1.6 1.6 0 1 0 3.2 0a1.6 1.6 0 1 0 -3.2 0M50.89 300.98a1.6 1.6 0 1 0 3.2 0a1.6 1.6 0 1 0 -3.2 0M52.88 299.45a1.6 1.6 0 1 0 3.2 0a1.6 1.6 0 1 0 -3.2 0M54.86 297.9a1.6 1.6 0 1 0 3.2 0a1.6 1.6 0 1 0 -3.2 0M56.85 296.34a1.6 1.6 0 1 0 3.2 0a1.6 1.6 0 1 0 -3.2 0M58.84 294.77a1.6 1.6 0 1 0 3.2 0a1.6 1.6 0 1 0 -3.2 0M60.83 293.18a1.6 1.6 0 1 0 3.2 0a1.6 1.6 0 1 0 -3.2 0M62.82 291.57a1.6 1.6 0 1 0 3.2 0a1.6 1.6 0 1 0 -3.2 0M64.8 289.95a1.6 1.6 0 1 0 3.2 0a1.6 1.6 0 1 0 -3.2 0M66.79 288.3a1.6 1.6 0 1 0 3.2 0a1.6 1.6 0 1 0 -3.2 0M68.78 286.59a1.6 1.6 0 1 0 3.2 0a1.6 1.6 0 1 0 -3.2 0M70.77 284.85a1.6 1.6 0 1 0 3.2 0a1.6 1.6 0 1 0 -3.2 0M72.75 283.1a1.6 1.6 0 1 0 3.2 0a1.6 1.6 0 1 0 -3.2 0M74.74 281.33a1.6 1.6 0 1 0 3.2 0a1.6 1.6 0 1 0 -3.2 0M76.73 279.57a1.6 1.6 0 1 0 3.2 0a1.6 1.6 0 1 0 -3.2 0M78.72 277.83a1.6 1.6 0 1 0 3.2 0a1.6 1.6 0 1 0 -3.2 0M80.71 276.13a1.6 1.6 0 1 0 3.2 0a1.6 1.6 0 1 0 -3.2 0M82.69 274.48a1.6 1.6 0 1 0 3.2 0a1.6 1.6 0 1 0 -3.2 0M84.68 272.83a1.6 1.6 0 1 0 3.2 0a1.6 1.6 0 1 0 -3.2 0M86.67 271.2a1.6 1.6 0 1 0 3.2 0a1.6 1.6 0 1 0 -3.2 0M88.66 269.57a1.6 1.6 0 1 0 3.2 0a1.6 1.6 0 1 0 -3.2 0M90.65 267.97a1.6 1.6 0 1 0 3.2 0a1.6 1.6 0 1 0 -3.2 0M92.63 266.39a1.6 1.6 0 1 0 3.2 0a1.6 1.6 0 1 0 -3.2 0M94.62 264.83a1.6 1.6 0 1 0 3.2 0a1.6 1.6 0 1 0 -3.2 0M96.61 263.4a1.6 1.6 0 1 0 3.2 0a1.6 1.6 0 1 0 -3.2 0M98.6 262.01a1.6 1.6 0 1 0 3.2 0a1.6 1.6 0 1 0 -3.2 0M100.58 260.64a1.6 1.6 0 1 0 3.2 0a1.6 1.6 0 1 0 -3.2 0M102.57 259.3a1.6 1.6 0 1 0 3.2 0a1.6 1.6 0 1 0 -3.2 0M104.56 258.01a1.6 1.6 0 1 0 3.2 0a1.6 1.6 0 1 0 -3.2 0M106.55 256.8a1.6 1.6 0 1 0 3.2 0a1.6 1.6 0 1 0 -3.2 0M108.54 255.66a1.6 1.6 0 1 0 3.2 0a1.6 1.6 0 1 0 -3.2 0M110.52 254.6a1.6 1.6 0 1 0 3.2 0a1.6 1.6 0 1 0 -3.2 0M112.51 254.04a1.6 1.6 0 1 0 3.2 0a1.6 1.6 0 1 0 -3.2 0M114.5 253.7a1.6 1.6 0 1 0 3.2 0a1.6 1.6 0 1 0 -3.2 0M116.49 253.57a1.6 1.6 0 1 0 3.2 0a1.6 1.6 0 1 0 -3.2 0M118.48 253.29a1.6 1.6 0 1 0 3.2 0a1.6 1.6 0 1 0 -3.2 0M120.46 252.33a1.6 1.6 0 1 0 3.2 0a1.6 1.6 0 1 0 -3.2 0M122.45 251.18a1.6 1.6 0 1 0 3.2 0a1.6 1.6 0 1 0 -3.2 0M124.44 249.79a1.6 1.6 0 1 0 3.2 0a1.6 1.6 0 1 0 -3.2 0M126.43 248.23a1.6 1.6 0 1 0 3.2 0a1.6 1.6 0 1 0 -3.2 0M128.42 246.59a1.6 1.6 0 1 0 3.2 0a1.6 1.6 0 1 0 -3.2 0M130.4 244.95a1.6 1.6 0 1 0 3.2 0a1.6 1.6 0 1 0 -3.2 0M132.39 243.37a1.6 1.6 0 1 0 3.2 0a1.6 1.6 0 1 0 -3.2 0M134.38 241.78a1.6 1.6 0 1 0 3.2 0a1.6 1.6 0 1 0 -3.2 0M136.37 240.25a1.6 1.6 0 1 0 3.2 0a1.6 1.6 0 1 0 -3.2 0M138.35 238.69a1.6 1.6 0 1 0 3.2 0a1.6 1.6 0 1 0 -3.2 0M140.34 237.11a1.6 1.6 0 1 0 3.2 0a1.6 1.6 0 1 0 -3.2 0M142.33 235.5a1.6 1.6 0 1 0 3.2 0a1.6 1.6 0 1 0 -3.2 0M144.32 233.88a1.6 1.6 0 1 0 3.2 0a1.6 1.6 0 1 0 -3.2 0M146.31 232.23a1.6 1.6 0 1 0 3.2 0a1.6 1.6 0 1 0 -3.2 0M148.29 230.56a1.6 1.6 0 1 0 3.2 0a1.6 1.6 0 1 0 -3.2 0M150.28 228.86a1.6 1.6 0 1 0 3.2 0a1.6 1.6 0 1 0 -3.2 0M152.27 227.12a1.6 1.6 0 1 0 3.2 0a1.6 1.6 0 1 0 -3.2 0M154.26 225.35a1.6 1.6 0 1 0 3.2 0a1.6 1.6 0 1 0 -3.2 0M156.25 223.57a1.6 1.6 0 1 0 3.2 0a1.6 1.6 0 1 0 -3.2 0M158.23 221.79a1.6 1.6 0 1 0 3.2 0a1.6 1.6 0 1 0 -3.2 0M160.22 220a1.6 1.6 0 1 0 3.2 0a1.6 1.6 0 1 0 -3.2 0M162.21 218.22a1.6 1.6 0 1 0 3.2 0a1.6 1.6 0 1 0 -3.2 0M164.2 216.45a1.6 1.6 0 1 0 3.2 0a1.6 1.6 0 1 0 -3.2 0M166.18 214.69a1.6 1.6 0 1 0 3.2 0a1.6 1.6 0 1 0 -3.2 0M168.17 212.93a1.6 1.6 0 1 0 3.2 0a1.6 1.6 0 1 0 -3.2 0M170.16 211.18a1.6 1.6 0 1 0 3.2 0a1.6 1.6 0 1 0 -3.2 0M172.15 209.43a1.6 1.6 0 1 0 3.2 0a1.6 1.6 0 1 0 -3.2 0M174.14 207.69a1.6 1.6 0 1 0 3.2 0a1.6 1.6 0 1 0 -3.2 0M176.12 205.95a1.6 1.6 0 1 0 3.2 0a1.6 1.6 0 1 0 -3.2 0M178.11 204.22a1.6 1.6 0 1 0 3.2 0a1.6 1.6 0 1 0 -3.2 0M180.1 202.5a1.6 1.6 0 1 0 3.2 0a1.6 1.6 0 1 0 -3.2 0M49.89 301.61a1.6 1.6 0 1 0 3.2 0a1.6 1.6 0 1 0 -3.2 0M51.88 299.82a1.6 1.6 0 1 0 3.2 0a1.6 1.6 0 1 0 -3.2 0M53.87 298.02a1.6 1.6 0 1 0 3.2 0a1.6 1.6 0 1 0 -3.2 0M55.86 296.21a1.6 1.6 0 1 0 3.2 0a1.6 1.6 0 1 0 -3.2 0M57.85 294.39a1.6 1.6 0 1 0 3.2 0a1.6 1.6 0 1 0 -3.2 0M59.83 292.58a1.6 1.6 0 1 0 3.2 0a1.6 1.6 0 1 0 -3.2 0M61.82 290.75a1.6 1.6 0 1 0 3.2 0a1.6 1.6 0 1 0 -3.2 0M63.81 288.93a1.6 1.6 0 1 0 3.2 0a1.6 1.6 0 1 0 -3.2 0M65.8 287.1a1.6 1.6 0 1 0 3.2 0a1.6 1.6 0 1 0 -3.2 0M67.78 285.25a1.6 1.6 0 1 0 3.2 0a1.6 1.6 0 1 0 -3.2 0M69.77 283.37a1.6 1.6 0 1 0 3.2 0a1.6 1.6 0 1 0 -3.2 0M71.76 281.49a1.6 1.6 0 1 0 3.2 0a1.6 1.6 0 1 0 -3.2 0M73.75 279.61a1.6 1.6 0 1 0 3.2 0a1.6 1.6 0 1 0 -3.2 0M75.74 277.76a1.6 1.6 0 1 0 3.2 0a1.6 1.6 0 1 0 -3.2 0M77.72 275.95a1.6 1.6 0 1 0 3.2 0a1.6 1.6 0 1 0 -3.2 0M79.71 274.19a1.6 1.6 0 1 0 3.2 0a1.6 1.6 0 1 0 -3.2 0M81.7 272.5a1.6 1.6 0 1 0 3.2 0a1.6 1.6 0 1 0 -3.2 0M83.69 270.87a1.6 1.6 0 1 0 3.2 0a1.6 1.6 0 1 0 -3.2 0M85.68 269.26a1.6 1.6 0 1 0 3.2 0a1.6 1.6 0 1 0 -3.2 0M87.66 267.7a1.6 1.6 0 1 0 3.2 0a1.6 1.6 0 1 0 -3.2 0M89.65 266.17a1.6 1.6 0 1 0 3.2 0a1.6 1.6 0 1 0 -3.2 0M91.64 264.69a1.6 1.6 0 1 0 3.2 0a1.6 1.6 0 1 0 -3.2 0M93.63 263.25a1.6 1.6 0 1 0 3.2 0a1.6 1.6 0 1 0 -3.2 0M95.62 261.82a1.6 1.6 0 1 0 3.2 0a1.6 1.6 0 1 0 -3.2 0M97.6 260.39a1.6 1.6 0 1 0 3.2 0a1.6 1.6 0 1 0 -3.2 0M99.59 259.01a1.6 1.6 0 1 0 3.2 0a1.6 1.6 0 1 0 -3.2 0M101.58 257.66a1.6 1.6 0 1 0 3.2 0a1.6 1.6 0 1 0 -3.2 0M103.57 256.36a1.6 1.6 0 1 0 3.2 0a1.6 1.6 0 1 0 -3.2 0M105.55 255.14a1.6 1.6 0 1 0 3.2 0a1.6 1.6 0 1 0 -3.2 0M107.54 254.01a1.6 1.6 0 1 0 3.2 0a1.6 1.6 0 1 0 -3.2 0M109.53 252.94a1.6 1.6 0 1 0 3.2 0a1.6 1.6 0 1 0 -3.2 0M111.52 252.18a1.6 1.6 0 1 0 3.2 0a1.6 1.6 0 1 0 -3.2 0M113.51 251.82a1.6 1.6 0 1 0 3.2 0a1.6 1.6 0 1 0 -3.2 0M115.49 251.59a1.6 1.6 0 1 0 3.2 0a1.6 1.6 0 1 0 -3.2 0M117.48 251.39a1.6 1.6 0 1 0 3.2 0a1.6 1.6 0 1 0 -3.2 0M119.47 250.71a1.6 1.6 0 1 0 3.2 0a1.6 1.6 0 1 0 -3.2 0M121.46 249.57a1.6 1.6 0 1 0 3.2 0a1.6 1.6 0 1 0 -3.2 0M123.45 248.26a1.6 1.6 0 1 0 3.2 0a1.6 1.6 0 1 0 -3.2 0M125.43 246.74a1.6 1.6 0 1 0 3.2 0a1.6 1.6 0 1 0 -3.2 0M127.42 245.1a1.6 1.6 0 1 0 3.2 0a1.6 1.6 0 1 0 -3.2 0M129.41 243.44a1.6 1.6 0 1 0 3.2 0a1.6 1.6 0 1 0 -3.2 0M131.4 241.85a1.6 1.6 0 1 0 3.2 0a1.6 1.6 0 1 0 -3.2 0M133.38 240.29a1.6 1.6 0 1 0 3.2 0a1.6 1.6 0 1 0 -3.2 0M135.37 238.66a1.6 1.6 0 1 0 3.2 0a1.6 1.6 0 1 0 -3.2 0M137.36 236.98a1.6 1.6 0 1 0 3.2 0a1.6 1.6 0 1 0 -3.2 0M139.35 235.3a1.6 1.6 0 1 0 3.2 0a1.6 1.6 0 1 0 -3.2 0M141.34 233.62a1.6 1.6 0 1 0 3.2 0a1.6 1.6 0 1 0 -3.2 0M143.32 231.94a1.6 1.6 0 1 0 3.2 0a1.6 1.6 0 1 0 -3.2 0M145.31 230.27a1.6 1.6 0 1 0 3.2 0a1.6 1.6 0 1 0 -3.2 0M147.3 228.6a1.6 1.6 0 1 0 3.2 0a1.6 1.6 0 1 0 -3.2 0M149.29 226.93a1.6 1.6 0 1 0 3.2 0a1.6 1.6 0 1 0 -3.2 0M151.28 225.24a1.6 1.6 0 1 0 3.2 0a1.6 1.6 0 1 0 -3.2 0M153.26 223.55a1.6 1.6 0 1 0 3.2 0a1.6 1.6 0 1 0 -3.2 0M155.25 221.87a1.6 1.6 0 1 0 3.2 0a1.6 1.6 0 1 0 -3.2 0M157.24 220.19a1.6 1.6 0 1 0 3.2 0a1.6 1.6 0 1 0 -3.2 0M159.23 218.54a1.6 1.6 0 1 0 3.2 0a1.6 1.6 0 1 0 -3.2 0M161.22 216.9a1.6 1.6 0 1 0 3.2 0a1.6 1.6 0 1 0 -3.2 0M163.2 215.3a1.6 1.6 0 1 0 3.2 0a1.6 1.6 0 1 0 -3.2 0M165.19 213.74a1.6 1.6 0 1 0 3.2 0a1.6 1.6 0 1 0 -3.2 0M167.18 212.19a1.6 1.6 0 1 0 3.2 0a1.6 1.6 0 1 0 -3.2 0M169.17 210.66a1.6 1.6 0 1 0 3.2 0a1.6 1.6 0 1 0 -3.2 0M171.15 209.14a1.6 1.6 0 1 0 3.2 0a1.6 1.6 0 1 0 -3.2 0M173.14 207.64a1.6 1.6 0 1 0 3.2 0a1.6 1.6 0 1 0 -3.2 0M175.13 206.16a1.6 1.6 0 1 0 3.2 0a1.6 1.6 0 1 0 -3.2 0M177.12 204.69a1.6 1.6 0 1 0 3.2 0a1.6 1.6 0 1 0 -3.2 0M179.11 203.23a1.6 1.6 0 1 0 3.2 0a1.6 1.6 0 1 0 -3.2 0" fill="none" stroke="#f00" stroke-width="0.6"/>
<g class="t">
<text class="tl" transform="translate(50.3 327) scale(0.9 1)" text-anchor="middle">-10</text>
<text class="tl" transform="translate(83.1 327) scale(0.9 1)" text-anchor="middle">-5</text>
<text class="tl" transform="translate(115.9 327) scale(0.9 1)" text-anchor="middle">0</text>
<text class="tl" transform="translate(148.7 327) scale(0.9 1)" text-anchor="middle">5</text>
<text class="tl" transform="translate(181.5 327) scale(0.9 1)" text-anchor="middle">10</text>
<text class="tl" transform="translate(31.1 321.16) scale(0.94 1)" text-anchor="end">-0.003</text>
<text class="tl" transform="translate(31.1 299.29) scale(0.94 1)" text-anchor="end">-0.002</text>
<text class="tl" transform="translate(31.1 277.42) scale(0.94 1)" text-anchor="end">-0.001</text>
<text class="tl" transform="translate(31.1 255.55) scale(0.94 1)" text-anchor="end">0.000</text>
<text class="tl" transform="translate(31.1 233.68) scale(0.94 1)" text-anchor="end">0.001</text>
<text class="tl" transform="translate(31.1 211.81) scale(0.94 1)" text-anchor="end">0.002</text>
<text class="tl" transform="translate(31.1 189.94) scale(0.94 1)" text-anchor="end">0.003</text>
<text class="ti" x="116.2" y="338" text-anchor="middle">Magnetic field (kOe)</text>
<text class="ti" style="font-size:10.5px" text-anchor="middle" transform="translate(8.6 242.4) rotate(-90)">Magnetization (emu/cc)</text>
<text class="lb" x="75.1" y="204.7" text-anchor="middle">(d)</text>
<text class="lg" transform="translate(70.6 224) scale(0.96 1)">y=0.06</text>
</g>
</g>
<g>
<path d="M361.1 187V318.3 M279 252.75H442.9" stroke="#333" stroke-width="1.25" fill="none"/>
<path d="M295.5 318.3v-2.6M295.5 187v2.6M311.9 318.3v-1.5M311.9 187v1.5M328.3 318.3v-2.6M328.3 187v2.6M344.7 318.3v-1.5M344.7 187v1.5M361.1 318.3v-2.6M361.1 187v2.6M377.5 318.3v-1.5M377.5 187v1.5M393.9 318.3v-2.6M393.9 187v2.6M410.3 318.3v-1.5M410.3 187v1.5M426.7 318.3v-2.6M426.7 187v2.6M279 318.3h2.6M442.9 318.3h-2.6M279 311.75h1.5M442.9 311.75h-1.5M279 305.19h2.6M442.9 305.19h-2.6M279 298.63h1.5M442.9 298.63h-1.5M279 292.08h2.6M442.9 292.08h-2.6M279 285.52h1.5M442.9 285.52h-1.5M279 278.97h2.6M442.9 278.97h-2.6M279 272.42h1.5M442.9 272.42h-1.5M279 265.86h2.6M442.9 265.86h-2.6M279 259.31h1.5M442.9 259.31h-1.5M279 252.75h2.6M442.9 252.75h-2.6M279 246.19h1.5M442.9 246.19h-1.5M279 239.64h2.6M442.9 239.64h-2.6M279 233.09h1.5M442.9 233.09h-1.5M279 226.53h2.6M442.9 226.53h-2.6M279 219.97h1.5M442.9 219.97h-1.5M279 213.42h2.6M442.9 213.42h-2.6M279 206.87h1.5M442.9 206.87h-1.5M279 200.31h2.6M442.9 200.31h-2.6M279 193.75h1.5M442.9 193.75h-1.5M279 187.2h2.6M442.9 187.2h-2.6" stroke="#000" stroke-width="1" fill="none"/>
<rect x="279" y="187" width="163.9" height="131.3" stroke="#000" stroke-width="1.3" fill="none"/>
<path d="M298.9 226.1H313.4" stroke="#ff8080" stroke-width="1" fill="none"/>
<rect x="304.3" y="224.5" width="3.2" height="3.2" fill="#fff" stroke="#f33" stroke-width="1"/>
<path d="M293.9 301.3a1.6 1.6 0 1 0 3.2 0a1.6 1.6 0 1 0 -3.2 0M295.89 299.88a1.6 1.6 0 1 0 3.2 0a1.6 1.6 0 1 0 -3.2 0M297.88 298.45a1.6 1.6 0 1 0 3.2 0a1.6 1.6 0 1 0 -3.2 0M299.86 297.03a1.6 1.6 0 1 0 3.2 0a1.6 1.6 0 1 0 -3.2 0M301.85 295.6a1.6 1.6 0 1 0 3.2 0a1.6 1.6 0 1 0 -3.2 0M303.84 294.17a1.6 1.6 0 1 0 3.2 0a1.6 1.6 0 1 0 -3.2 0M305.83 292.74a1.6 1.6 0 1 0 3.2 0a1.6 1.6 0 1 0 -3.2 0M307.82 291.3a1.6 1.6 0 1 0 3.2 0a1.6 1.6 0 1 0 -3.2 0M309.8 289.85a1.6 1.6 0 1 0 3.2 0a1.6 1.6 0 1 0 -3.2 0M311.79 288.4a1.6 1.6 0 1 0 3.2 0a1.6 1.6 0 1 0 -3.2 0M313.78 286.94a1.6 1.6 0 1 0 3.2 0a1.6 1.6 0 1 0 -3.2 0M315.77 285.47a1.6 1.6 0 1 0 3.2 0a1.6 1.6 0 1 0 -3.2 0M317.75 284a1.6 1.6 0 1 0 3.2 0a1.6 1.6 0 1 0 -3.2 0M319.74 282.51a1.6 1.6 0 1 0 3.2 0a1.6 1.6 0 1 0 -3.2 0M321.73 281.01a1.6 1.6 0 1 0 3.2 0a1.6 1.6 0 1 0 -3.2 0M323.72 279.5a1.6 1.6 0 1 0 3.2 0a1.6 1.6 0 1 0 -3.2 0M325.71 277.97a1.6 1.6 0 1 0 3.2 0a1.6 1.6 0 1 0 -3.2 0M327.69 276.43a1.6 1.6 0 1 0 3.2 0a1.6 1.6 0 1 0 -3.2 0M329.68 274.91a1.6 1.6 0 1 0 3.2 0a1.6 1.6 0 1 0 -3.2 0M331.67 273.39a1.6 1.6 0 1 0 3.2 0a1.6 1.6 0 1 0 -3.2 0M333.66 271.87a1.6 1.6 0 1 0 3.2 0a1.6 1.6 0 1 0 -3.2 0M335.65 270.32a1.6 1.6 0 1 0 3.2 0a1.6 1.6 0 1 0 -3.2 0M337.63 268.73a1.6 1.6 0 1 0 3.2 0a1.6 1.6 0 1 0 -3.2 0M339.62 267.09a1.6 1.6 0 1 0 3.2 0a1.6 1.6 0 1 0 -3.2 0M341.61 265.46a1.6 1.6 0 1 0 3.2 0a1.6 1.6 0 1 0 -3.2 0M343.6 263.74a1.6 1.6 0 1 0 3.2 0a1.6 1.6 0 1 0 -3.2 0M345.58 261.76a1.6 1.6 0 1 0 3.2 0a1.6 1.6 0 1 0 -3.2 0M347.57 259.69a1.6 1.6 0 1 0 3.2 0a1.6 1.6 0 1 0 -3.2 0M349.56 257.85a1.6 1.6 0 1 0 3.2 0a1.6 1.6 0 1 0 -3.2 0M351.55 256.51a1.6 1.6 0 1 0 3.2 0a1.6 1.6 0 1 0 -3.2 0M353.54 255.37a1.6 1.6 0 1 0 3.2 0a1.6 1.6 0 1 0 -3.2 0M355.52 254.29a1.6 1.6 0 1 0 3.2 0a1.6 1.6 0 1 0 -3.2 0M357.51 253.85a1.6 1.6 0 1 0 3.2 0a1.6 1.6 0 1 0 -3.2 0M359.5 253.5a1.6 1.6 0 1 0 3.2 0a1.6 1.6 0 1 0 -3.2 0M361.49 253.24a1.6 1.6 0 1 0 3.2 0a1.6 1.6 0 1 0 -3.2 0M363.48 252.87a1.6 1.6 0 1 0 3.2 0a1.6 1.6 0 1 0 -3.2 0M365.46 251.79a1.6 1.6 0 1 0 3.2 0a1.6 1.6 0 1 0 -3.2 0M367.45 250.7a1.6 1.6 0 1 0 3.2 0a1.6 1.6 0 1 0 -3.2 0M369.44 249.41a1.6 1.6 0 1 0 3.2 0a1.6 1.6 0 1 0 -3.2 0M371.43 247.56a1.6 1.6 0 1 0 3.2 0a1.6 1.6 0 1 0 -3.2 0M373.42 245.45a1.6 1.6 0 1 0 3.2 0a1.6 1.6 0 1 0 -3.2 0M375.4 243.44a1.6 1.6 0 1 0 3.2 0a1.6 1.6 0 1 0 -3.2 0M377.39 241.72a1.6 1.6 0 1 0 3.2 0a1.6 1.6 0 1 0 -3.2 0M379.38 240.11a1.6 1.6 0 1 0 3.2 0a1.6 1.6 0 1 0 -3.2 0M381.37 238.64a1.6 1.6 0 1 0 3.2 0a1.6 1.6 0 1 0 -3.2 0M383.35 237.22a1.6 1.6 0 1 0 3.2 0a1.6 1.6 0 1 0 -3.2 0M385.34 235.81a1.6 1.6 0 1 0 3.2 0a1.6 1.6 0 1 0 -3.2 0M387.33 234.4a1.6 1.6 0 1 0 3.2 0a1.6 1.6 0 1 0 -3.2 0M389.32 232.96a1.6 1.6 0 1 0 3.2 0a1.6 1.6 0 1 0 -3.2 0M391.31 231.47a1.6 1.6 0 1 0 3.2 0a1.6 1.6 0 1 0 -3.2 0M393.29 229.91a1.6 1.6 0 1 0 3.2 0a1.6 1.6 0 1 0 -3.2 0M395.28 228.31a1.6 1.6 0 1 0 3.2 0a1.6 1.6 0 1 0 -3.2 0M397.27 226.67a1.6 1.6 0 1 0 3.2 0a1.6 1.6 0 1 0 -3.2 0M399.26 225a1.6 1.6 0 1 0 3.2 0a1.6 1.6 0 1 0 -3.2 0M401.25 223.32a1.6 1.6 0 1 0 3.2 0a1.6 1.6 0 1 0 -3.2 0M403.23 221.64a1.6 1.6 0 1 0 3.2 0a1.6 1.6 0 1 0 -3.2 0M405.22 219.95a1.6 1.6 0 1 0 3.2 0a1.6 1.6 0 1 0 -3.2 0M407.21 218.28a1.6 1.6 0 1 0 3.2 0a1.6 1.6 0 1 0 -3.2 0M409.2 216.63a1.6 1.6 0 1 0 3.2 0a1.6 1.6 0 1 0 -3.2 0M411.18 214.99a1.6 1.6 0 1 0 3.2 0a1.6 1.6 0 1 0 -3.2 0M413.17 213.35a1.6 1.6 0 1 0 3.2 0a1.6 1.6 0 1 0 -3.2 0M415.16 211.72a1.6 1.6 0 1 0 3.2 0a1.6 1.6 0 1 0 -3.2 0M417.15 210.1a1.6 1.6 0 1 0 3.2 0a1.6 1.6 0 1 0 -3.2 0M419.14 208.48a1.6 1.6 0 1 0 3.2 0a1.6 1.6 0 1 0 -3.2 0M421.12 206.88a1.6 1.6 0 1 0 3.2 0a1.6 1.6 0 1 0 -3.2 0M423.11 205.28a1.6 1.6 0 1 0 3.2 0a1.6 1.6 0 1 0 -3.2 0M425.1 203.7a1.6 1.6 0 1 0 3.2 0a1.6 1.6 0 1 0 -3.2 0M294.89 300.45a1.6 1.6 0 1 0 3.2 0a1.6 1.6 0 1 0 -3.2 0M296.88 298.77a1.6 1.6 0 1 0 3.2 0a1.6 1.6 0 1 0 -3.2 0M298.87 297.08a1.6 1.6 0 1 0 3.2 0a1.6 1.6 0 1 0 -3.2 0M300.86 295.4a1.6 1.6 0 1 0 3.2 0a1.6 1.6 0 1 0 -3.2 0M302.85 293.72a1.6 1.6 0 1 0 3.2 0a1.6 1.6 0 1 0 -3.2 0M304.83 292.06a1.6 1.6 0 1 0 3.2 0a1.6 1.6 0 1 0 -3.2 0M306.82 290.39a1.6 1.6 0 1 0 3.2 0a1.6 1.6 0 1 0 -3.2 0M308.81 288.74a1.6 1.6 0 1 0 3.2 0a1.6 1.6 0 1 0 -3.2 0M310.8 287.1a1.6 1.6 0 1 0 3.2 0a1.6 1.6 0 1 0 -3.2 0M312.78 285.47a1.6 1.6 0 1 0 3.2 0a1.6 1.6 0 1 0 -3.2 0M314.77 283.85a1.6 1.6 0 1 0 3.2 0a1.6 1.6 0 1 0 -3.2 0M316.76 282.25a1.6 1.6 0 1 0 3.2 0a1.6 1.6 0 1 0 -3.2 0M318.75 280.66a1.6 1.6 0 1 0 3.2 0a1.6 1.6 0 1 0 -3.2 0M320.74 279.07a1.6 1.6 0 1 0 3.2 0a1.6 1.6 0 1 0 -3.2 0M322.72 277.51a1.6 1.6 0 1 0 3.2 0a1.6 1.6 0 1 0 -3.2 0M324.71 275.95a1.6 1.6 0 1 0 3.2 0a1.6 1.6 0 1 0 -3.2 0M326.7 274.4a1.6 1.6 0 1 0 3.2 0a1.6 1.6 0 1 0 -3.2 0M328.69 272.88a1.6 1.6 0 1 0 3.2 0a1.6 1.6 0 1 0 -3.2 0M330.68 271.4a1.6 1.6 0 1 0 3.2 0a1.6 1.6 0 1 0 -3.2 0M332.66 269.95a1.6 1.6 0 1 0 3.2 0a1.6 1.6 0 1 0 -3.2 0M334.65 268.5a1.6 1.6 0 1 0 3.2 0a1.6 1.6 0 1 0 -3.2 0M336.64 267.04a1.6 1.6 0 1 0 3.2 0a1.6 1.6 0 1 0 -3.2 0M338.63 265.56a1.6 1.6 0 1 0 3.2 0a1.6 1.6 0 1 0 -3.2 0M340.62 264a1.6 1.6 0 1 0 3.2 0a1.6 1.6 0 1 0 -3.2 0M342.6 262.34a1.6 1.6 0 1 0 3.2 0a1.6 1.6 0 1 0 -3.2 0M344.59 260.51a1.6 1.6 0 1 0 3.2 0a1.6 1.6 0 1 0 -3.2 0M346.58 258.48a1.6 1.6 0 1 0 3.2 0a1.6 1.6 0 1 0 -3.2 0M348.57 256.52a1.6 1.6 0 1 0 3.2 0a1.6 1.6 0 1 0 -3.2 0M350.55 254.97a1.6 1.6 0 1 0 3.2 0a1.6 1.6 0 1 0 -3.2 0M352.54 253.88a1.6 1.6 0 1 0 3.2 0a1.6 1.6 0 1 0 -3.2 0M354.53 252.75a1.6 1.6 0 1 0 3.2 0a1.6 1.6 0 1 0 -3.2 0M356.52 252.11a1.6 1.6 0 1 0 3.2 0a1.6 1.6 0 1 0 -3.2 0M358.51 251.84a1.6 1.6 0 1 0 3.2 0a1.6 1.6 0 1 0 -3.2 0M360.49 251.52a1.6 1.6 0 1 0 3.2 0a1.6 1.6 0 1 0 -3.2 0M362.48 251.16a1.6 1.6 0 1 0 3.2 0a1.6 1.6 0 1 0 -3.2 0M364.47 250.42a1.6 1.6 0 1 0 3.2 0a1.6 1.6 0 1 0 -3.2 0M366.46 249.14a1.6 1.6 0 1 0 3.2 0a1.6 1.6 0 1 0 -3.2 0M368.45 247.99a1.6 1.6 0 1 0 3.2 0a1.6 1.6 0 1 0 -3.2 0M370.43 246.34a1.6 1.6 0 1 0 3.2 0a1.6 1.6 0 1 0 -3.2 0M372.42 244.28a1.6 1.6 0 1 0 3.2 0a1.6 1.6 0 1 0 -3.2 0M374.41 242.14a1.6 1.6 0 1 0 3.2 0a1.6 1.6 0 1 0 -3.2 0M376.4 240.28a1.6 1.6 0 1 0 3.2 0a1.6 1.6 0 1 0 -3.2 0M378.38 238.63a1.6 1.6 0 1 0 3.2 0a1.6 1.6 0 1 0 -3.2 0M380.37 237.02a1.6 1.6 0 1 0 3.2 0a1.6 1.6 0 1 0 -3.2 0M382.36 235.44a1.6 1.6 0 1 0 3.2 0a1.6 1.6 0 1 0 -3.2 0M384.35 233.92a1.6 1.6 0 1 0 3.2 0a1.6 1.6 0 1 0 -3.2 0M386.34 232.42a1.6 1.6 0 1 0 3.2 0a1.6 1.6 0 1 0 -3.2 0M388.32 230.94a1.6 1.6 0 1 0 3.2 0a1.6 1.6 0 1 0 -3.2 0M390.31 229.44a1.6 1.6 0 1 0 3.2 0a1.6 1.6 0 1 0 -3.2 0M392.3 227.9a1.6 1.6 0 1 0 3.2 0a1.6 1.6 0 1 0 -3.2 0M394.29 226.33a1.6 1.6 0 1 0 3.2 0a1.6 1.6 0 1 0 -3.2 0M396.28 224.74a1.6 1.6 0 1 0 3.2 0a1.6 1.6 0 1 0 -3.2 0M398.26 223.15a1.6 1.6 0 1 0 3.2 0a1.6 1.6 0 1 0 -3.2 0M400.25 221.57a1.6 1.6 0 1 0 3.2 0a1.6 1.6 0 1 0 -3.2 0M402.24 219.99a1.6 1.6 0 1 0 3.2 0a1.6 1.6 0 1 0 -3.2 0M404.23 218.44a1.6 1.6 0 1 0 3.2 0a1.6 1.6 0 1 0 -3.2 0M406.22 216.91a1.6 1.6 0 1 0 3.2 0a1.6 1.6 0 1 0 -3.2 0M408.2 215.43a1.6 1.6 0 1 0 3.2 0a1.6 1.6 0 1 0 -3.2 0M410.19 213.97a1.6 1.6 0 1 0 3.2 0a1.6 1.6 0 1 0 -3.2 0M412.18 212.55a1.6 1.6 0 1 0 3.2 0a1.6 1.6 0 1 0 -3.2 0M414.17 211.14a1.6 1.6 0 1 0 3.2 0a1.6 1.6 0 1 0 -3.2 0M416.15 209.75a1.6 1.6 0 1 0 3.2 0a1.6 1.6 0 1 0 -3.2 0M418.14 208.37a1.6 1.6 0 1 0 3.2 0a1.6 1.6 0 1 0 -3.2 0M420.13 207.02a1.6 1.6 0 1 0 3.2 0a1.6 1.6 0 1 0 -3.2 0M422.12 205.68a1.6 1.6 0 1 0 3.2 0a1.6 1.6 0 1 0 -3.2 0M424.11 204.36a1.6 1.6 0 1 0 3.2 0a1.6 1.6 0 1 0 -3.2 0" fill="none" stroke="#f00" stroke-width="0.6"/>
<g class="t">
<text class="tl" transform="translate(295.3 327) scale(0.9 1)" text-anchor="middle">-10</text>
<text class="tl" transform="translate(328.1 327) scale(0.9 1)" text-anchor="middle">-5</text>
<text class="tl" transform="translate(360.9 327) scale(0.9 1)" text-anchor="middle">0</text>
<text class="tl" transform="translate(393.7 327) scale(0.9 1)" text-anchor="middle">5</text>
<text class="tl" transform="translate(426.5 327) scale(0.9 1)" text-anchor="middle">10</text>
<text class="tl" transform="translate(276.1 321.1) scale(0.94 1)" text-anchor="end">-0.005</text>
<text class="tl" transform="translate(276.1 307.99) scale(0.94 1)" text-anchor="end">-0.004</text>
<text class="tl" transform="translate(276.1 294.88) scale(0.94 1)" text-anchor="end">-0.003</text>
<text class="tl" transform="translate(276.1 281.77) scale(0.94 1)" text-anchor="end">-0.002</text>
<text class="tl" transform="translate(276.1 268.66) scale(0.94 1)" text-anchor="end">-0.001</text>
<text class="tl" transform="translate(276.1 255.55) scale(0.94 1)" text-anchor="end">0.000</text>
<text class="tl" transform="translate(276.1 242.44) scale(0.94 1)" text-anchor="end">0.001</text>
<text class="tl" transform="translate(276.1 229.33) scale(0.94 1)" text-anchor="end">0.002</text>
<text class="tl" transform="translate(276.1 216.22) scale(0.94 1)" text-anchor="end">0.003</text>
<text class="tl" transform="translate(276.1 203.11) scale(0.94 1)" text-anchor="end">0.004</text>
<text class="tl" transform="translate(276.1 190) scale(0.94 1)" text-anchor="end">0.005</text>
<text class="ti" x="361" y="336.5" text-anchor="middle">Magnetic field (kOe)</text>
<text class="ti" style="font-size:10.35px" text-anchor="middle" transform="translate(252.6 253.15) rotate(-90)">Magnetization (emu/cc)</text>
<text class="lb" x="325.9" y="206.8" text-anchor="middle">(e)</text>
<text class="lg" transform="translate(314.7 228.1) scale(0.96 1)">y=0.08</text>
</g>
</g>
<g>
<path d="M602.4 187V318 M521 252.75H684" stroke="#333" stroke-width="1.25" fill="none"/>
<path d="M534.1 318v-2.6M534.1 187v2.6M551.17 318v-1.5M551.17 187v1.5M568.25 318v-2.6M568.25 187v2.6M585.32 318v-1.5M585.32 187v1.5M602.4 318v-2.6M602.4 187v2.6M619.48 318v-1.5M619.48 187v1.5M636.55 318v-2.6M636.55 187v2.6M653.62 318v-1.5M653.62 187v1.5M670.7 318v-2.6M670.7 187v2.6M521 318.31h2.6M684 318.31h-2.6M521 310.12h1.5M684 310.12h-1.5M521 301.92h2.6M684 301.92h-2.6M521 293.73h1.5M684 293.73h-1.5M521 285.53h2.6M684 285.53h-2.6M521 277.33h1.5M684 277.33h-1.5M521 269.14h2.6M684 269.14h-2.6M521 260.94h1.5M684 260.94h-1.5M521 252.75h2.6M684 252.75h-2.6M521 244.56h1.5M684 244.56h-1.5M521 236.36h2.6M684 236.36h-2.6M521 228.16h1.5M684 228.16h-1.5M521 219.97h2.6M684 219.97h-2.6M521 211.78h1.5M684 211.78h-1.5M521 203.58h2.6M684 203.58h-2.6M521 195.38h1.5M684 195.38h-1.5M521 187.19h2.6M684 187.19h-2.6" stroke="#000" stroke-width="1" fill="none"/>
<rect x="521" y="187" width="163" height="131" stroke="#000" stroke-width="1.3" fill="none"/>
<path d="M540.8 222.3H554.9" stroke="#777777" stroke-width="1" fill="none"/>
<circle cx="547.95" cy="222.3" r="1.55" fill="#fff" stroke="#f00" stroke-width="1"/>
<path d="M533.18 300.66a1.6 1.6 0 1 0 3.2 0a1.6 1.6 0 1 0 -3.2 0M535.24 299.3a1.6 1.6 0 1 0 3.2 0a1.6 1.6 0 1 0 -3.2 0M537.29 297.93a1.6 1.6 0 1 0 3.2 0a1.6 1.6 0 1 0 -3.2 0M539.35 296.54a1.6 1.6 0 1 0 3.2 0a1.6 1.6 0 1 0 -3.2 0M541.4 295.13a1.6 1.6 0 1 0 3.2 0a1.6 1.6 0 1 0 -3.2 0M543.46 293.69a1.6 1.6 0 1 0 3.2 0a1.6 1.6 0 1 0 -3.2 0M545.51 292.23a1.6 1.6 0 1 0 3.2 0a1.6 1.6 0 1 0 -3.2 0M547.57 290.75a1.6 1.6 0 1 0 3.2 0a1.6 1.6 0 1 0 -3.2 0M549.62 289.24a1.6 1.6 0 1 0 3.2 0a1.6 1.6 0 1 0 -3.2 0M551.68 287.68a1.6 1.6 0 1 0 3.2 0a1.6 1.6 0 1 0 -3.2 0M553.74 286.06a1.6 1.6 0 1 0 3.2 0a1.6 1.6 0 1 0 -3.2 0M555.79 284.39a1.6 1.6 0 1 0 3.2 0a1.6 1.6 0 1 0 -3.2 0M557.85 282.7a1.6 1.6 0 1 0 3.2 0a1.6 1.6 0 1 0 -3.2 0M559.9 281.01a1.6 1.6 0 1 0 3.2 0a1.6 1.6 0 1 0 -3.2 0M561.96 279.31a1.6 1.6 0 1 0 3.2 0a1.6 1.6 0 1 0 -3.2 0M564.01 277.64a1.6 1.6 0 1 0 3.2 0a1.6 1.6 0 1 0 -3.2 0M566.07 276a1.6 1.6 0 1 0 3.2 0a1.6 1.6 0 1 0 -3.2 0M568.12 274.41a1.6 1.6 0 1 0 3.2 0a1.6 1.6 0 1 0 -3.2 0M570.18 272.84a1.6 1.6 0 1 0 3.2 0a1.6 1.6 0 1 0 -3.2 0M572.23 271.29a1.6 1.6 0 1 0 3.2 0a1.6 1.6 0 1 0 -3.2 0M574.29 269.78a1.6 1.6 0 1 0 3.2 0a1.6 1.6 0 1 0 -3.2 0M576.34 268.34a1.6 1.6 0 1 0 3.2 0a1.6 1.6 0 1 0 -3.2 0M578.4 266.9a1.6 1.6 0 1 0 3.2 0a1.6 1.6 0 1 0 -3.2 0M580.45 265.46a1.6 1.6 0 1 0 3.2 0a1.6 1.6 0 1 0 -3.2 0M582.51 264.02a1.6 1.6 0 1 0 3.2 0a1.6 1.6 0 1 0 -3.2 0M584.56 262.57a1.6 1.6 0 1 0 3.2 0a1.6 1.6 0 1 0 -3.2 0M586.62 261.1a1.6 1.6 0 1 0 3.2 0a1.6 1.6 0 1 0 -3.2 0M588.67 259.65a1.6 1.6 0 1 0 3.2 0a1.6 1.6 0 1 0 -3.2 0M590.73 258.21a1.6 1.6 0 1 0 3.2 0a1.6 1.6 0 1 0 -3.2 0M592.78 256.81a1.6 1.6 0 1 0 3.2 0a1.6 1.6 0 1 0 -3.2 0M594.84 255.38a1.6 1.6 0 1 0 3.2 0a1.6 1.6 0 1 0 -3.2 0M596.89 254.33a1.6 1.6 0 1 0 3.2 0a1.6 1.6 0 1 0 -3.2 0M598.95 254.21a1.6 1.6 0 1 0 3.2 0a1.6 1.6 0 1 0 -3.2 0M601 254.1a1.6 1.6 0 1 0 3.2 0a1.6 1.6 0 1 0 -3.2 0M603.06 254.03a1.6 1.6 0 1 0 3.2 0a1.6 1.6 0 1 0 -3.2 0M605.12 253.53a1.6 1.6 0 1 0 3.2 0a1.6 1.6 0 1 0 -3.2 0M607.17 252.39a1.6 1.6 0 1 0 3.2 0a1.6 1.6 0 1 0 -3.2 0M609.23 251.16a1.6 1.6 0 1 0 3.2 0a1.6 1.6 0 1 0 -3.2 0M611.28 249.67a1.6 1.6 0 1 0 3.2 0a1.6 1.6 0 1 0 -3.2 0M613.34 248.03a1.6 1.6 0 1 0 3.2 0a1.6 1.6 0 1 0 -3.2 0M615.39 246.33a1.6 1.6 0 1 0 3.2 0a1.6 1.6 0 1 0 -3.2 0M617.45 244.69a1.6 1.6 0 1 0 3.2 0a1.6 1.6 0 1 0 -3.2 0M619.5 243.14a1.6 1.6 0 1 0 3.2 0a1.6 1.6 0 1 0 -3.2 0M621.56 241.61a1.6 1.6 0 1 0 3.2 0a1.6 1.6 0 1 0 -3.2 0M623.61 240.08a1.6 1.6 0 1 0 3.2 0a1.6 1.6 0 1 0 -3.2 0M625.67 238.55a1.6 1.6 0 1 0 3.2 0a1.6 1.6 0 1 0 -3.2 0M627.72 237.01a1.6 1.6 0 1 0 3.2 0a1.6 1.6 0 1 0 -3.2 0M629.78 235.52a1.6 1.6 0 1 0 3.2 0a1.6 1.6 0 1 0 -3.2 0M631.83 234.03a1.6 1.6 0 1 0 3.2 0a1.6 1.6 0 1 0 -3.2 0M633.89 232.5a1.6 1.6 0 1 0 3.2 0a1.6 1.6 0 1 0 -3.2 0M635.94 230.94a1.6 1.6 0 1 0 3.2 0a1.6 1.6 0 1 0 -3.2 0M638 229.32a1.6 1.6 0 1 0 3.2 0a1.6 1.6 0 1 0 -3.2 0M640.05 227.66a1.6 1.6 0 1 0 3.2 0a1.6 1.6 0 1 0 -3.2 0M642.11 225.98a1.6 1.6 0 1 0 3.2 0a1.6 1.6 0 1 0 -3.2 0M644.16 224.27a1.6 1.6 0 1 0 3.2 0a1.6 1.6 0 1 0 -3.2 0M646.22 222.56a1.6 1.6 0 1 0 3.2 0a1.6 1.6 0 1 0 -3.2 0M648.27 220.85a1.6 1.6 0 1 0 3.2 0a1.6 1.6 0 1 0 -3.2 0M650.33 219.16a1.6 1.6 0 1 0 3.2 0a1.6 1.6 0 1 0 -3.2 0M652.39 217.48a1.6 1.6 0 1 0 3.2 0a1.6 1.6 0 1 0 -3.2 0M654.44 215.82a1.6 1.6 0 1 0 3.2 0a1.6 1.6 0 1 0 -3.2 0M656.5 214.16a1.6 1.6 0 1 0 3.2 0a1.6 1.6 0 1 0 -3.2 0M658.55 212.52a1.6 1.6 0 1 0 3.2 0a1.6 1.6 0 1 0 -3.2 0M660.61 210.87a1.6 1.6 0 1 0 3.2 0a1.6 1.6 0 1 0 -3.2 0M662.66 209.24a1.6 1.6 0 1 0 3.2 0a1.6 1.6 0 1 0 -3.2 0M664.72 207.62a1.6 1.6 0 1 0 3.2 0a1.6 1.6 0 1 0 -3.2 0M666.77 206.01a1.6 1.6 0 1 0 3.2 0a1.6 1.6 0 1 0 -3.2 0M668.83 204.42a1.6 1.6 0 1 0 3.2 0a1.6 1.6 0 1 0 -3.2 0M534.21 299.7a1.6 1.6 0 1 0 3.2 0a1.6 1.6 0 1 0 -3.2 0M536.27 298a1.6 1.6 0 1 0 3.2 0a1.6 1.6 0 1 0 -3.2 0M538.32 296.29a1.6 1.6 0 1 0 3.2 0a1.6 1.6 0 1 0 -3.2 0M540.38 294.56a1.6 1.6 0 1 0 3.2 0a1.6 1.6 0 1 0 -3.2 0M542.43 292.83a1.6 1.6 0 1 0 3.2 0a1.6 1.6 0 1 0 -3.2 0M544.49 291.08a1.6 1.6 0 1 0 3.2 0a1.6 1.6 0 1 0 -3.2 0M546.54 289.33a1.6 1.6 0 1 0 3.2 0a1.6 1.6 0 1 0 -3.2 0M548.6 287.57a1.6 1.6 0 1 0 3.2 0a1.6 1.6 0 1 0 -3.2 0M550.65 285.8a1.6 1.6 0 1 0 3.2 0a1.6 1.6 0 1 0 -3.2 0M552.71 283.99a1.6 1.6 0 1 0 3.2 0a1.6 1.6 0 1 0 -3.2 0M554.76 282.15a1.6 1.6 0 1 0 3.2 0a1.6 1.6 0 1 0 -3.2 0M556.82 280.31a1.6 1.6 0 1 0 3.2 0a1.6 1.6 0 1 0 -3.2 0M558.87 278.48a1.6 1.6 0 1 0 3.2 0a1.6 1.6 0 1 0 -3.2 0M560.93 276.68a1.6 1.6 0 1 0 3.2 0a1.6 1.6 0 1 0 -3.2 0M562.98 274.92a1.6 1.6 0 1 0 3.2 0a1.6 1.6 0 1 0 -3.2 0M565.04 273.23a1.6 1.6 0 1 0 3.2 0a1.6 1.6 0 1 0 -3.2 0M567.09 271.61a1.6 1.6 0 1 0 3.2 0a1.6 1.6 0 1 0 -3.2 0M569.15 270.05a1.6 1.6 0 1 0 3.2 0a1.6 1.6 0 1 0 -3.2 0M571.2 268.54a1.6 1.6 0 1 0 3.2 0a1.6 1.6 0 1 0 -3.2 0M573.26 267.08a1.6 1.6 0 1 0 3.2 0a1.6 1.6 0 1 0 -3.2 0M575.31 265.57a1.6 1.6 0 1 0 3.2 0a1.6 1.6 0 1 0 -3.2 0M577.37 264.08a1.6 1.6 0 1 0 3.2 0a1.6 1.6 0 1 0 -3.2 0M579.43 262.62a1.6 1.6 0 1 0 3.2 0a1.6 1.6 0 1 0 -3.2 0M581.48 261.19a1.6 1.6 0 1 0 3.2 0a1.6 1.6 0 1 0 -3.2 0M583.54 259.77a1.6 1.6 0 1 0 3.2 0a1.6 1.6 0 1 0 -3.2 0M585.59 258.37a1.6 1.6 0 1 0 3.2 0a1.6 1.6 0 1 0 -3.2 0M587.65 256.98a1.6 1.6 0 1 0 3.2 0a1.6 1.6 0 1 0 -3.2 0M589.7 255.62a1.6 1.6 0 1 0 3.2 0a1.6 1.6 0 1 0 -3.2 0M591.76 254.31a1.6 1.6 0 1 0 3.2 0a1.6 1.6 0 1 0 -3.2 0M593.81 253.06a1.6 1.6 0 1 0 3.2 0a1.6 1.6 0 1 0 -3.2 0M595.87 251.7a1.6 1.6 0 1 0 3.2 0a1.6 1.6 0 1 0 -3.2 0M597.92 251.46a1.6 1.6 0 1 0 3.2 0a1.6 1.6 0 1 0 -3.2 0M599.98 251.49a1.6 1.6 0 1 0 3.2 0a1.6 1.6 0 1 0 -3.2 0M602.03 251.39a1.6 1.6 0 1 0 3.2 0a1.6 1.6 0 1 0 -3.2 0M604.09 251.07a1.6 1.6 0 1 0 3.2 0a1.6 1.6 0 1 0 -3.2 0M606.14 250.02a1.6 1.6 0 1 0 3.2 0a1.6 1.6 0 1 0 -3.2 0M608.2 248.71a1.6 1.6 0 1 0 3.2 0a1.6 1.6 0 1 0 -3.2 0M610.25 247.22a1.6 1.6 0 1 0 3.2 0a1.6 1.6 0 1 0 -3.2 0M612.31 245.54a1.6 1.6 0 1 0 3.2 0a1.6 1.6 0 1 0 -3.2 0M614.36 243.77a1.6 1.6 0 1 0 3.2 0a1.6 1.6 0 1 0 -3.2 0M616.42 242.01a1.6 1.6 0 1 0 3.2 0a1.6 1.6 0 1 0 -3.2 0M618.47 240.38a1.6 1.6 0 1 0 3.2 0a1.6 1.6 0 1 0 -3.2 0M620.53 238.82a1.6 1.6 0 1 0 3.2 0a1.6 1.6 0 1 0 -3.2 0M622.58 237.29a1.6 1.6 0 1 0 3.2 0a1.6 1.6 0 1 0 -3.2 0M624.64 235.79a1.6 1.6 0 1 0 3.2 0a1.6 1.6 0 1 0 -3.2 0M626.7 234.3a1.6 1.6 0 1 0 3.2 0a1.6 1.6 0 1 0 -3.2 0M628.75 232.81a1.6 1.6 0 1 0 3.2 0a1.6 1.6 0 1 0 -3.2 0M630.81 231.25a1.6 1.6 0 1 0 3.2 0a1.6 1.6 0 1 0 -3.2 0M632.86 229.69a1.6 1.6 0 1 0 3.2 0a1.6 1.6 0 1 0 -3.2 0M634.92 228.13a1.6 1.6 0 1 0 3.2 0a1.6 1.6 0 1 0 -3.2 0M636.97 226.55a1.6 1.6 0 1 0 3.2 0a1.6 1.6 0 1 0 -3.2 0M639.03 224.96a1.6 1.6 0 1 0 3.2 0a1.6 1.6 0 1 0 -3.2 0M641.08 223.36a1.6 1.6 0 1 0 3.2 0a1.6 1.6 0 1 0 -3.2 0M643.14 221.78a1.6 1.6 0 1 0 3.2 0a1.6 1.6 0 1 0 -3.2 0M645.19 220.21a1.6 1.6 0 1 0 3.2 0a1.6 1.6 0 1 0 -3.2 0M647.25 218.67a1.6 1.6 0 1 0 3.2 0a1.6 1.6 0 1 0 -3.2 0M649.3 217.16a1.6 1.6 0 1 0 3.2 0a1.6 1.6 0 1 0 -3.2 0M651.36 215.69a1.6 1.6 0 1 0 3.2 0a1.6 1.6 0 1 0 -3.2 0M653.41 214.27a1.6 1.6 0 1 0 3.2 0a1.6 1.6 0 1 0 -3.2 0M655.47 212.88a1.6 1.6 0 1 0 3.2 0a1.6 1.6 0 1 0 -3.2 0M657.52 211.51a1.6 1.6 0 1 0 3.2 0a1.6 1.6 0 1 0 -3.2 0M659.58 210.17a1.6 1.6 0 1 0 3.2 0a1.6 1.6 0 1 0 -3.2 0M661.63 208.84a1.6 1.6 0 1 0 3.2 0a1.6 1.6 0 1 0 -3.2 0M663.69 207.54a1.6 1.6 0 1 0 3.2 0a1.6 1.6 0 1 0 -3.2 0M665.74 206.26a1.6 1.6 0 1 0 3.2 0a1.6 1.6 0 1 0 -3.2 0M667.8 205a1.6 1.6 0 1 0 3.2 0a1.6 1.6 0 1 0 -3.2 0" fill="none" stroke="#f00" stroke-width="0.6"/>
<g class="t">
<text class="tl" transform="translate(533.9 326.7) scale(0.9 1)" text-anchor="middle">-10</text>
<text class="tl" transform="translate(568.05 326.7) scale(0.9 1)" text-anchor="middle">-5</text>
<text class="tl" transform="translate(602.2 326.7) scale(0.9 1)" text-anchor="middle">0</text>
<text class="tl" transform="translate(636.35 326.7) scale(0.9 1)" text-anchor="middle">5</text>
<text class="tl" transform="translate(670.5 326.7) scale(0.9 1)" text-anchor="middle">10</text>
<text class="tl" transform="translate(518.1 321.11) scale(0.94 1)" text-anchor="end">-0.004</text>
<text class="tl" transform="translate(518.1 304.72) scale(0.94 1)" text-anchor="end">-0.003</text>
<text class="tl" transform="translate(518.1 288.33) scale(0.94 1)" text-anchor="end">-0.002</text>
<text class="tl" transform="translate(518.1 271.94) scale(0.94 1)" text-anchor="end">-0.001</text>
<text class="tl" transform="translate(518.1 255.55) scale(0.94 1)" text-anchor="end">0.000</text>
<text class="tl" transform="translate(518.1 239.16) scale(0.94 1)" text-anchor="end">0.001</text>
<text class="tl" transform="translate(518.1 222.77) scale(0.94 1)" text-anchor="end">0.002</text>
<text class="tl" transform="translate(518.1 206.38) scale(0.94 1)" text-anchor="end">0.003</text>
<text class="tl" transform="translate(518.1 189.99) scale(0.94 1)" text-anchor="end">0.004</text>
<text class="ti" x="614.6" y="337.6" text-anchor="middle">Magnetic field (kOe)</text>
<text class="ti" style="font-size:10.1px" text-anchor="middle" transform="translate(497.9 242.4) rotate(-90)">Magnetization (emu/cc)</text>
<text class="lb" x="565.2" y="204.7" text-anchor="middle">(f)</text>
<text class="lg" transform="translate(556.5 224.1) scale(0.96 1)">y=0.10</text>
</g>
</g>
</svg>
</body></html>
